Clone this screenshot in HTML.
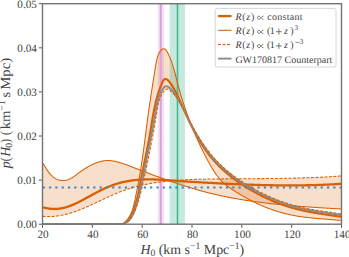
<!DOCTYPE html><html><head><meta charset="utf-8"><style>html,body{margin:0;padding:0;background:#fff;width:349px;height:257px;overflow:hidden}svg{display:block}text{font-family:"Liberation Serif",serif;fill:#424242;text-rendering:geometricPrecision}</style></head><body>
<svg width="349" height="257" viewBox="0 0 349 257">
<rect width="349" height="257" fill="#fff"/>
<defs><clipPath id="ax"><rect x="42.50" y="3.70" width="299.00" height="220.50"/></clipPath></defs>
<g clip-path="url(#ax)">
<rect x="157.8" y="0" width="6.2" height="230" fill="#f4e1f2"/>
<rect x="169.7" y="0" width="15.2" height="230" fill="#c5e9de"/>
<path d="M42.70,163.40 L43.19,163.87 L43.52,164.36 L43.86,164.86 L44.21,165.39 L44.55,165.92 L44.91,166.47 L45.26,167.03 L45.62,167.60 L45.99,168.17 L46.36,168.75 L46.74,169.34 L47.13,169.92 L47.52,170.50 L47.92,171.09 L48.33,171.67 L48.75,172.24 L49.18,172.81 L49.61,173.36 L50.05,173.91 L50.51,174.44 L50.97,174.96 L51.45,175.47 L51.94,175.96 L52.43,176.42 L52.94,176.87 L53.47,177.29 L54.00,177.69 L54.55,178.07 L55.11,178.41 L55.68,178.73 L56.26,179.03 L56.85,179.30 L57.44,179.54 L58.05,179.76 L58.66,179.95 L59.27,180.12 L59.89,180.26 L60.52,180.37 L61.14,180.46 L61.77,180.52 L62.39,180.56 L63.02,180.57 L63.64,180.55 L64.26,180.51 L64.88,180.44 L65.49,180.35 L66.10,180.23 L66.70,180.08 L67.29,179.91 L67.88,179.72 L68.46,179.50 L69.04,179.26 L69.61,179.00 L70.18,178.73 L70.74,178.43 L71.30,178.12 L71.86,177.79 L72.41,177.45 L72.97,177.10 L73.52,176.73 L74.07,176.35 L74.62,175.97 L75.17,175.57 L75.72,175.17 L76.27,174.77 L76.83,174.36 L77.38,173.94 L77.94,173.53 L78.50,173.11 L79.06,172.70 L79.63,172.28 L80.20,171.87 L80.77,171.46 L81.35,171.05 L81.93,170.65 L82.52,170.25 L83.11,169.85 L83.70,169.46 L84.29,169.07 L84.89,168.69 L85.49,168.31 L86.09,167.94 L86.69,167.57 L87.30,167.21 L87.91,166.85 L88.52,166.50 L89.14,166.16 L89.76,165.82 L90.38,165.49 L91.00,165.17 L91.62,164.86 L92.24,164.56 L92.87,164.26 L93.50,163.97 L94.13,163.70 L94.76,163.43 L95.39,163.17 L96.02,162.92 L96.66,162.69 L97.29,162.46 L97.93,162.25 L98.56,162.04 L99.20,161.85 L99.84,161.67 L100.48,161.50 L101.12,161.35 L101.76,161.21 L102.40,161.08 L103.04,160.96 L103.68,160.86 L104.32,160.77 L104.96,160.70 L105.60,160.65 L106.24,160.60 L106.88,160.58 L107.51,160.56 L108.15,160.56 L108.79,160.58 L109.43,160.60 L110.07,160.64 L110.70,160.69 L111.34,160.76 L111.98,160.83 L112.62,160.92 L113.25,161.01 L113.89,161.12 L114.52,161.23 L115.16,161.36 L115.80,161.50 L116.43,161.64 L117.07,161.79 L117.70,161.95 L118.34,162.12 L118.97,162.30 L119.61,162.48 L120.24,162.67 L120.87,162.87 L121.51,163.07 L122.14,163.28 L122.78,163.49 L123.41,163.70 L124.04,163.93 L124.68,164.15 L125.31,164.38 L125.94,164.61 L126.57,164.85 L127.21,165.08 L127.84,165.32 L128.47,165.56 L129.10,165.81 L129.73,166.05 L130.37,166.29 L131.00,166.54 L131.63,166.78 L132.26,167.03 L132.89,167.27 L133.52,167.51 L134.15,167.76 L134.78,168.00 L135.41,168.25 L136.05,168.49 L136.68,168.73 L137.31,168.97 L137.94,169.22 L138.57,169.46 L139.20,169.70 L139.83,169.94 L140.46,170.18 L141.09,170.43 L141.72,170.67 L142.35,170.91 L142.98,171.15 L143.61,171.39 L144.24,171.63 L144.87,171.87 L145.50,172.11 L146.13,172.35 L146.76,172.58 L147.39,172.82 L148.01,173.06 L148.64,173.30 L149.27,173.54 L149.90,173.77 L150.53,174.01 L151.16,174.24 L151.79,174.48 L152.42,174.72 L153.05,174.95 L153.68,175.18 L154.31,175.42 L154.94,175.65 L155.57,175.89 L156.20,176.12 L156.83,176.35 L157.46,176.58 L158.09,176.81 L158.72,177.04 L159.35,177.27 L159.98,177.50 L160.61,177.73 L161.24,177.96 L161.87,178.19 L162.50,178.42 L163.13,178.64 L163.76,178.87 L164.39,179.09 L165.02,179.32 L165.65,179.54 L166.28,179.77 L166.91,179.99 L167.54,180.21 L168.17,180.43 L168.80,180.66 L169.43,180.88 L170.06,181.10 L170.70,181.32 L171.33,181.53 L171.96,181.75 L172.59,181.97 L173.22,182.19 L173.85,182.40 L174.49,182.62 L175.12,182.83 L175.75,183.04 L176.38,183.26 L177.02,183.47 L177.65,183.68 L178.28,183.89 L178.92,184.10 L179.55,184.31 L180.18,184.52 L180.82,184.73 L181.45,184.93 L182.08,185.14 L182.72,185.34 L183.35,185.55 L183.99,185.75 L184.62,185.95 L185.26,186.15 L185.89,186.35 L186.53,186.55 L187.16,186.75 L187.80,186.95 L188.44,187.15 L189.07,187.34 L189.71,187.54 L190.35,187.73 L190.98,187.92 L191.62,188.12 L192.26,188.31 L192.90,188.50 L193.54,188.69 L194.17,188.87 L194.81,189.06 L195.45,189.25 L196.09,189.43 L196.73,189.62 L197.37,189.80 L198.01,189.98 L198.65,190.16 L199.29,190.34 L199.93,190.52 L200.57,190.70 L201.22,190.87 L201.86,191.05 L202.50,191.22 L203.14,191.40 L203.79,191.57 L204.43,191.74 L205.07,191.91 L205.72,192.08 L206.36,192.25 L207.01,192.41 L207.65,192.58 L208.30,192.74 L208.94,192.90 L209.59,193.07 L210.24,193.23 L210.88,193.38 L211.53,193.54 L212.18,193.70 L212.82,193.85 L213.47,194.01 L214.12,194.16 L214.77,194.31 L215.42,194.46 L216.07,194.61 L216.72,194.76 L217.37,194.91 L218.02,195.06 L218.67,195.20 L219.32,195.35 L219.97,195.49 L220.62,195.63 L221.28,195.77 L221.93,195.91 L222.58,196.05 L223.23,196.19 L223.89,196.32 L224.54,196.46 L225.19,196.59 L225.85,196.73 L226.50,196.86 L227.16,196.99 L227.81,197.12 L228.47,197.25 L229.12,197.38 L229.78,197.50 L230.43,197.63 L231.09,197.75 L231.75,197.88 L232.40,198.00 L233.06,198.12 L233.72,198.24 L234.38,198.36 L235.03,198.48 L235.69,198.60 L236.35,198.72 L237.01,198.83 L237.67,198.95 L238.33,199.06 L238.99,199.17 L239.64,199.29 L240.30,199.40 L240.96,199.51 L241.62,199.62 L242.28,199.73 L242.94,199.83 L243.61,199.94 L244.27,200.05 L244.93,200.15 L245.59,200.26 L246.25,200.36 L246.91,200.46 L247.57,200.56 L248.23,200.66 L248.90,200.76 L249.56,200.86 L250.22,200.96 L250.88,201.06 L251.55,201.15 L252.21,201.25 L252.87,201.34 L253.54,201.44 L254.20,201.53 L254.86,201.62 L255.53,201.72 L256.19,201.81 L256.86,201.90 L257.52,201.99 L258.18,202.07 L258.85,202.16 L259.51,202.25 L260.18,202.33 L260.84,202.42 L261.51,202.50 L262.17,202.59 L262.84,202.67 L263.50,202.75 L264.17,202.84 L264.84,202.92 L265.50,203.00 L266.17,203.08 L266.83,203.16 L267.50,203.23 L268.17,203.31 L268.83,203.39 L269.50,203.47 L270.16,203.54 L270.83,203.62 L271.50,203.69 L272.16,203.76 L272.83,203.84 L273.50,203.91 L274.16,203.98 L274.83,204.05 L275.50,204.12 L276.17,204.19 L276.83,204.26 L277.50,204.33 L278.17,204.40 L278.83,204.46 L279.50,204.53 L280.17,204.60 L280.84,204.66 L281.50,204.73 L282.17,204.79 L282.84,204.86 L283.51,204.92 L284.17,204.98 L284.84,205.05 L285.51,205.11 L286.18,205.17 L286.85,205.23 L287.51,205.29 L288.18,205.35 L288.85,205.41 L289.52,205.47 L290.18,205.53 L290.85,205.58 L291.52,205.64 L292.19,205.70 L292.85,205.75 L293.52,205.81 L294.19,205.87 L294.86,205.92 L295.53,205.98 L296.19,206.03 L296.86,206.08 L297.53,206.14 L298.20,206.19 L298.86,206.24 L299.53,206.29 L300.20,206.35 L300.86,206.40 L301.53,206.45 L302.20,206.50 L302.87,206.55 L303.53,206.60 L304.20,206.65 L304.87,206.70 L305.53,206.75 L306.20,206.79 L306.87,206.84 L307.53,206.89 L308.20,206.94 L308.87,206.98 L309.53,207.03 L310.20,207.08 L310.87,207.12 L311.53,207.17 L312.20,207.21 L312.87,207.26 L313.53,207.30 L314.20,207.35 L314.86,207.39 L315.53,207.44 L316.19,207.48 L316.86,207.52 L317.52,207.57 L318.19,207.61 L318.85,207.65 L319.52,207.69 L320.18,207.74 L320.85,207.78 L321.51,207.82 L322.18,207.86 L322.84,207.90 L323.50,207.95 L324.17,207.99 L324.83,208.03 L325.50,208.07 L326.16,208.11 L326.82,208.15 L327.49,208.19 L328.15,208.23 L328.81,208.27 L329.47,208.31 L330.14,208.35 L330.80,208.39 L331.46,208.43 L332.12,208.47 L332.78,208.51 L333.45,208.54 L334.11,208.58 L334.77,208.62 L335.43,208.66 L336.09,208.70 L336.75,208.74 L337.41,208.78 L338.07,208.82 L338.73,208.85 L339.39,208.89 L340.05,208.93 L340.71,208.97 L341.50,208.90 L341.50,176.20 L340.88,175.97 L340.20,176.02 L339.53,176.07 L338.86,176.12 L338.19,176.17 L337.52,176.22 L336.85,176.26 L336.18,176.31 L335.51,176.36 L334.83,176.40 L334.16,176.45 L333.49,176.49 L332.82,176.53 L332.15,176.58 L331.48,176.62 L330.81,176.66 L330.14,176.70 L329.47,176.74 L328.80,176.78 L328.13,176.82 L327.46,176.86 L326.79,176.90 L326.12,176.94 L325.45,176.97 L324.78,177.01 L324.11,177.04 L323.44,177.08 L322.77,177.11 L322.10,177.15 L321.43,177.18 L320.76,177.22 L320.09,177.25 L319.42,177.28 L318.75,177.31 L318.08,177.34 L317.41,177.37 L316.74,177.40 L316.07,177.43 L315.40,177.46 L314.73,177.49 L314.06,177.52 L313.39,177.55 L312.72,177.57 L312.05,177.60 L311.39,177.63 L310.72,177.65 L310.05,177.68 L309.38,177.70 L308.71,177.73 L308.04,177.75 L307.37,177.77 L306.70,177.80 L306.03,177.82 L305.36,177.84 L304.70,177.86 L304.03,177.88 L303.36,177.90 L302.69,177.93 L302.02,177.95 L301.35,177.96 L300.68,177.98 L300.01,178.00 L299.35,178.02 L298.68,178.04 L298.01,178.06 L297.34,178.08 L296.67,178.09 L296.00,178.11 L295.34,178.13 L294.67,178.14 L294.00,178.16 L293.33,178.17 L292.66,178.19 L291.99,178.20 L291.33,178.22 L290.66,178.23 L289.99,178.24 L289.32,178.26 L288.65,178.27 L287.98,178.28 L287.32,178.30 L286.65,178.31 L285.98,178.32 L285.31,178.33 L284.64,178.34 L283.97,178.35 L283.31,178.37 L282.64,178.38 L281.97,178.39 L281.30,178.40 L280.63,178.41 L279.97,178.42 L279.30,178.43 L278.63,178.43 L277.96,178.44 L277.29,178.45 L276.63,178.46 L275.96,178.47 L275.29,178.48 L274.62,178.48 L273.95,178.49 L273.29,178.50 L272.62,178.51 L271.95,178.51 L271.28,178.52 L270.61,178.53 L269.95,178.54 L269.28,178.54 L268.61,178.55 L267.94,178.55 L267.27,178.56 L266.60,178.57 L265.94,178.57 L265.27,178.58 L264.60,178.58 L263.93,178.59 L263.26,178.59 L262.60,178.60 L261.93,178.60 L261.26,178.61 L260.59,178.61 L259.92,178.62 L259.25,178.62 L258.59,178.63 L257.92,178.63 L257.25,178.64 L256.58,178.64 L255.91,178.64 L255.25,178.65 L254.58,178.65 L253.91,178.66 L253.24,178.66 L252.57,178.66 L251.90,178.67 L251.23,178.67 L250.57,178.68 L249.90,178.68 L249.23,178.68 L248.56,178.69 L247.89,178.69 L247.22,178.70 L246.55,178.70 L245.89,178.70 L245.22,178.71 L244.55,178.71 L243.88,178.72 L243.21,178.72 L242.54,178.72 L241.87,178.73 L241.20,178.73 L240.54,178.74 L239.87,178.74 L239.20,178.74 L238.53,178.75 L237.86,178.75 L237.19,178.76 L236.52,178.76 L235.85,178.77 L235.18,178.77 L234.51,178.78 L233.84,178.78 L233.17,178.79 L232.50,178.79 L231.83,178.80 L231.17,178.80 L230.50,178.81 L229.83,178.81 L229.16,178.82 L228.49,178.82 L227.82,178.83 L227.15,178.83 L226.48,178.84 L225.81,178.85 L225.14,178.85 L224.47,178.86 L223.80,178.87 L223.13,178.87 L222.46,178.88 L221.79,178.89 L221.12,178.90 L220.45,178.90 L219.78,178.91 L219.11,178.92 L218.43,178.93 L217.76,178.94 L217.09,178.95 L216.42,178.96 L215.75,178.96 L215.08,178.97 L214.41,178.98 L213.74,178.99 L213.07,179.00 L212.40,179.01 L211.73,179.03 L211.05,179.04 L210.38,179.05 L209.71,179.06 L209.04,179.07 L208.37,179.08 L207.70,179.10 L207.03,179.11 L206.35,179.12 L205.68,179.13 L205.01,179.15 L204.34,179.16 L203.67,179.18 L202.99,179.19 L202.32,179.21 L201.65,179.22 L200.98,179.24 L200.31,179.26 L199.64,179.27 L198.96,179.29 L198.29,179.31 L197.62,179.33 L196.95,179.35 L196.28,179.37 L195.60,179.39 L194.93,179.41 L194.26,179.44 L193.59,179.46 L192.92,179.48 L192.25,179.51 L191.58,179.53 L190.90,179.56 L190.23,179.59 L189.56,179.62 L188.89,179.65 L188.22,179.68 L187.55,179.71 L186.88,179.74 L186.21,179.77 L185.54,179.81 L184.87,179.84 L184.20,179.88 L183.53,179.91 L182.86,179.95 L182.19,179.99 L181.52,180.03 L180.85,180.07 L180.18,180.11 L179.51,180.16 L178.85,180.20 L178.18,180.25 L177.51,180.29 L176.84,180.34 L176.17,180.39 L175.51,180.44 L174.84,180.50 L174.17,180.55 L173.51,180.60 L172.84,180.66 L172.17,180.72 L171.51,180.78 L170.84,180.84 L170.18,180.90 L169.51,180.96 L168.85,181.03 L168.18,181.10 L167.52,181.16 L166.86,181.23 L166.19,181.31 L165.53,181.38 L164.87,181.45 L164.20,181.53 L163.54,181.61 L162.88,181.69 L162.22,181.77 L161.56,181.85 L160.90,181.94 L160.24,182.02 L159.58,182.11 L158.92,182.20 L158.26,182.29 L157.60,182.39 L156.94,182.48 L156.28,182.58 L155.63,182.68 L154.97,182.78 L154.31,182.88 L153.66,182.99 L153.00,183.10 L152.35,183.21 L151.69,183.32 L151.04,183.43 L150.39,183.55 L149.73,183.66 L149.08,183.78 L148.43,183.91 L147.78,184.03 L147.12,184.16 L146.47,184.28 L145.82,184.42 L145.17,184.55 L144.52,184.68 L143.88,184.82 L143.23,184.96 L142.58,185.10 L141.93,185.25 L141.29,185.40 L140.64,185.54 L140.00,185.70 L139.35,185.85 L138.71,186.01 L138.06,186.17 L137.42,186.33 L136.78,186.49 L136.14,186.66 L135.50,186.83 L134.86,187.00 L134.22,187.18 L133.58,187.35 L132.94,187.53 L132.30,187.71 L131.67,187.90 L131.03,188.09 L130.39,188.28 L129.76,188.47 L129.12,188.67 L128.49,188.87 L127.86,189.07 L127.23,189.27 L126.59,189.48 L125.96,189.69 L125.33,189.90 L124.70,190.12 L124.08,190.34 L123.45,190.56 L122.82,190.79 L122.19,191.01 L121.57,191.24 L120.94,191.48 L120.32,191.72 L119.70,191.96 L119.07,192.20 L118.45,192.45 L117.83,192.70 L117.21,192.95 L116.59,193.20 L115.97,193.46 L115.35,193.72 L114.74,193.98 L114.12,194.25 L113.50,194.51 L112.89,194.78 L112.27,195.05 L111.66,195.33 L111.04,195.60 L110.43,195.88 L109.82,196.16 L109.20,196.44 L108.59,196.72 L107.98,197.00 L107.37,197.29 L106.75,197.57 L106.14,197.86 L105.53,198.15 L104.92,198.44 L104.31,198.73 L103.70,199.02 L103.09,199.31 L102.48,199.60 L101.87,199.89 L101.26,200.18 L100.65,200.48 L100.04,200.77 L99.43,201.06 L98.82,201.35 L98.21,201.65 L97.61,201.94 L97.00,202.23 L96.39,202.52 L95.78,202.82 L95.17,203.11 L94.56,203.40 L93.95,203.69 L93.34,203.98 L92.73,204.26 L92.12,204.55 L91.51,204.84 L90.90,205.12 L90.29,205.40 L89.67,205.69 L89.06,205.97 L88.45,206.25 L87.84,206.52 L87.22,206.80 L86.61,207.07 L86.00,207.34 L85.38,207.61 L84.77,207.88 L84.15,208.14 L83.54,208.41 L82.92,208.67 L82.30,208.92 L81.69,209.18 L81.07,209.43 L80.45,209.68 L79.83,209.93 L79.21,210.17 L78.59,210.41 L77.97,210.65 L77.35,210.88 L76.72,211.11 L76.10,211.34 L75.47,211.56 L74.85,211.78 L74.22,212.00 L73.59,212.21 L72.97,212.42 L72.34,212.63 L71.71,212.83 L71.08,213.02 L70.44,213.21 L69.81,213.40 L69.18,213.58 L68.54,213.76 L67.90,213.94 L67.27,214.10 L66.63,214.27 L65.99,214.43 L65.35,214.58 L64.70,214.73 L64.06,214.87 L63.42,215.01 L62.77,215.14 L62.12,215.27 L61.47,215.39 L60.82,215.51 L60.17,215.62 L59.52,215.72 L58.86,215.82 L58.21,215.91 L57.55,216.00 L56.89,216.08 L56.23,216.15 L55.57,216.22 L54.91,216.28 L54.24,216.33 L53.58,216.38 L52.91,216.42 L52.24,216.45 L51.57,216.47 L50.89,216.49 L50.22,216.50 L49.54,216.51 L48.86,216.50 L48.18,216.49 L47.50,216.48 L46.82,216.45 L46.13,216.42 L45.44,216.37 L44.75,216.32 L44.06,216.27 L43.37,216.20 L42.70,216.00 Z" fill="#d95f02" fill-opacity="0.2" stroke="none"/>
<path d="M42.50,224.20 L116.50,224.20 L117.19,224.20 L117.91,224.20 L118.61,224.20 L119.30,224.20 L119.97,224.20 L120.62,224.20 L121.25,224.07 L121.87,223.85 L122.48,223.59 L123.06,223.29 L123.63,222.96 L124.18,222.59 L124.71,222.20 L125.23,221.78 L125.73,221.33 L126.21,220.87 L126.67,220.39 L127.12,219.89 L127.55,219.38 L127.96,218.86 L128.35,218.33 L128.73,217.79 L129.09,217.25 L129.44,216.69 L129.77,216.13 L130.09,215.55 L130.39,214.97 L130.68,214.38 L130.96,213.79 L131.22,213.19 L131.48,212.58 L131.72,211.96 L131.95,211.34 L132.18,210.72 L132.39,210.09 L132.60,209.45 L132.79,208.81 L132.98,208.17 L133.16,207.52 L133.34,206.87 L133.51,206.22 L133.67,205.57 L133.83,204.91 L133.98,204.25 L134.13,203.59 L134.28,202.92 L134.43,202.26 L134.57,201.60 L134.71,200.93 L134.85,200.27 L134.98,199.61 L135.12,198.94 L135.26,198.28 L135.40,197.62 L135.53,196.96 L135.67,196.30 L135.80,195.64 L135.94,194.98 L136.07,194.33 L136.21,193.67 L136.34,193.01 L136.48,192.35 L136.61,191.70 L136.74,191.04 L136.87,190.39 L137.00,189.73 L137.13,189.08 L137.26,188.42 L137.39,187.77 L137.52,187.11 L137.65,186.46 L137.77,185.81 L137.90,185.15 L138.03,184.50 L138.15,183.85 L138.28,183.19 L138.40,182.54 L138.52,181.89 L138.64,181.23 L138.77,180.58 L138.89,179.92 L139.01,179.27 L139.12,178.62 L139.24,177.96 L139.36,177.31 L139.48,176.66 L139.59,176.00 L139.71,175.35 L139.82,174.69 L139.93,174.04 L140.05,173.38 L140.16,172.72 L140.27,172.07 L140.38,171.41 L140.49,170.75 L140.59,170.10 L140.70,169.44 L140.81,168.78 L140.91,168.12 L141.02,167.47 L141.12,166.81 L141.22,166.15 L141.33,165.49 L141.43,164.83 L141.53,164.17 L141.63,163.51 L141.73,162.85 L141.83,162.19 L141.93,161.53 L142.03,160.87 L142.12,160.21 L142.22,159.55 L142.32,158.89 L142.41,158.22 L142.51,157.56 L142.60,156.90 L142.70,156.24 L142.79,155.58 L142.88,154.91 L142.97,154.25 L143.07,153.59 L143.16,152.93 L143.25,152.26 L143.34,151.60 L143.43,150.94 L143.52,150.27 L143.61,149.61 L143.70,148.95 L143.79,148.28 L143.88,147.62 L143.97,146.96 L144.05,146.29 L144.14,145.63 L144.23,144.97 L144.32,144.30 L144.40,143.64 L144.49,142.97 L144.58,142.31 L144.66,141.65 L144.75,140.98 L144.84,140.32 L144.92,139.65 L145.01,138.99 L145.09,138.32 L145.18,137.66 L145.26,137.00 L145.35,136.33 L145.43,135.67 L145.52,135.00 L145.61,134.34 L145.69,133.68 L145.78,133.01 L145.86,132.35 L145.95,131.68 L146.03,131.02 L146.12,130.36 L146.20,129.69 L146.29,129.03 L146.37,128.37 L146.46,127.70 L146.54,127.04 L146.63,126.38 L146.72,125.71 L146.80,125.05 L146.89,124.39 L146.97,123.72 L147.06,123.06 L147.15,122.40 L147.24,121.74 L147.32,121.07 L147.41,120.41 L147.50,119.75 L147.59,119.09 L147.68,118.43 L147.76,117.77 L147.85,117.11 L147.94,116.44 L148.03,115.78 L148.12,115.12 L148.21,114.46 L148.30,113.80 L148.40,113.14 L148.49,112.48 L148.58,111.82 L148.67,111.16 L148.76,110.50 L148.86,109.84 L148.95,109.19 L149.04,108.53 L149.14,107.87 L149.23,107.21 L149.33,106.55 L149.42,105.89 L149.52,105.23 L149.61,104.57 L149.71,103.91 L149.80,103.26 L149.90,102.60 L149.99,101.94 L150.09,101.28 L150.19,100.62 L150.29,99.96 L150.38,99.30 L150.48,98.65 L150.58,97.99 L150.68,97.33 L150.78,96.67 L150.88,96.01 L150.98,95.35 L151.07,94.70 L151.17,94.04 L151.27,93.38 L151.38,92.72 L151.48,92.06 L151.58,91.40 L151.68,90.74 L151.78,90.08 L151.88,89.43 L151.98,88.77 L152.09,88.11 L152.19,87.45 L152.29,86.79 L152.39,86.13 L152.50,85.47 L152.60,84.81 L152.71,84.15 L152.81,83.49 L152.91,82.83 L153.02,82.17 L153.12,81.51 L153.23,80.85 L153.33,80.18 L153.44,79.52 L153.54,78.86 L153.65,78.20 L153.76,77.54 L153.86,76.88 L153.97,76.21 L154.08,75.55 L154.18,74.89 L154.29,74.23 L154.40,73.56 L154.51,72.90 L154.62,72.23 L154.72,71.57 L154.83,70.91 L154.94,70.24 L155.05,69.58 L155.16,68.91 L155.27,68.25 L155.38,67.58 L155.49,66.91 L155.60,66.25 L155.71,65.58 L155.82,64.91 L155.93,64.25 L156.04,63.58 L156.16,62.91 L156.28,62.24 L156.41,61.57 L156.55,60.90 L156.70,60.23 L156.85,59.56 L157.02,58.88 L157.20,58.21 L157.40,57.53 L157.61,56.86 L157.83,56.18 L158.08,55.50 L158.34,54.83 L158.62,54.15 L158.92,53.49 L159.24,52.85 L159.57,52.24 L159.91,51.65 L160.27,51.10 L160.64,50.60 L161.03,50.14 L161.42,49.74 L161.83,49.41 L162.24,49.14 L162.67,48.94 L163.09,48.82 L163.52,48.77 L163.95,48.80 L164.37,48.90 L164.78,49.07 L165.18,49.32 L165.57,49.64 L165.95,50.02 L166.31,50.45 L166.67,50.93 L167.02,51.46 L167.35,52.03 L167.68,52.62 L168.00,53.24 L168.31,53.88 L168.62,54.53 L168.91,55.19 L169.20,55.84 L169.48,56.50 L169.76,57.16 L170.03,57.81 L170.29,58.47 L170.55,59.12 L170.80,59.78 L171.04,60.43 L171.28,61.08 L171.52,61.73 L171.75,62.39 L171.97,63.04 L172.19,63.69 L172.41,64.34 L172.62,64.99 L172.83,65.64 L173.03,66.29 L173.23,66.94 L173.42,67.59 L173.62,68.23 L173.81,68.88 L173.99,69.53 L174.18,70.17 L174.36,70.82 L174.53,71.47 L174.71,72.11 L174.88,72.76 L175.06,73.40 L175.23,74.05 L175.39,74.69 L175.56,75.34 L175.73,75.98 L175.89,76.63 L176.06,77.27 L176.22,77.91 L176.39,78.56 L176.55,79.20 L176.71,79.84 L176.88,80.48 L177.04,81.13 L177.20,81.77 L177.37,82.41 L177.54,83.05 L177.70,83.69 L177.87,84.34 L178.04,84.98 L178.21,85.62 L178.38,86.26 L178.56,86.90 L178.73,87.54 L178.91,88.18 L179.09,88.82 L179.27,89.46 L179.45,90.10 L179.63,90.74 L179.81,91.38 L179.99,92.02 L180.18,92.66 L180.37,93.30 L180.55,93.94 L180.74,94.58 L180.93,95.22 L181.12,95.86 L181.32,96.49 L181.51,97.13 L181.71,97.77 L181.90,98.41 L182.10,99.04 L182.30,99.68 L182.50,100.32 L182.70,100.95 L182.90,101.59 L183.11,102.23 L183.31,102.86 L183.52,103.50 L183.73,104.13 L183.93,104.77 L184.14,105.40 L184.36,106.03 L184.57,106.67 L184.78,107.30 L185.00,107.93 L185.21,108.57 L185.43,109.20 L185.65,109.83 L185.87,110.46 L186.09,111.09 L186.31,111.73 L186.53,112.36 L186.76,112.99 L186.98,113.62 L187.21,114.25 L187.44,114.88 L187.67,115.50 L187.90,116.13 L188.13,116.76 L188.36,117.39 L188.59,118.02 L188.83,118.64 L189.07,119.27 L189.30,119.89 L189.54,120.52 L189.78,121.14 L190.02,121.77 L190.26,122.39 L190.51,123.02 L190.75,123.64 L191.00,124.26 L191.24,124.89 L191.49,125.51 L191.74,126.13 L191.99,126.75 L192.24,127.37 L192.49,127.99 L192.74,128.61 L193.00,129.23 L193.25,129.85 L193.51,130.46 L193.77,131.08 L194.03,131.70 L194.29,132.31 L194.55,132.93 L194.81,133.55 L195.07,134.16 L195.34,134.77 L195.60,135.39 L195.87,136.00 L196.14,136.61 L196.41,137.22 L196.67,137.84 L196.95,138.45 L197.22,139.06 L197.49,139.67 L197.76,140.27 L198.04,140.88 L198.32,141.49 L198.59,142.10 L198.87,142.70 L199.15,143.31 L199.43,143.92 L199.71,144.52 L200.00,145.12 L200.28,145.73 L200.56,146.33 L200.85,146.93 L201.14,147.53 L201.42,148.13 L201.71,148.73 L202.00,149.33 L202.29,149.93 L202.59,150.53 L202.88,151.13 L203.18,151.72 L203.47,152.32 L203.77,152.91 L204.07,153.51 L204.37,154.10 L204.67,154.70 L204.98,155.29 L205.28,155.88 L205.59,156.47 L205.90,157.06 L206.21,157.65 L206.52,158.24 L206.83,158.83 L207.15,159.42 L207.46,160.00 L207.78,160.59 L208.10,161.18 L208.43,161.76 L208.75,162.35 L209.08,162.93 L209.40,163.51 L209.74,164.09 L210.07,164.68 L210.40,165.26 L210.74,165.84 L211.08,166.42 L211.42,167.00 L211.76,167.57 L212.11,168.15 L212.45,168.73 L212.80,169.30 L213.16,169.88 L213.51,170.45 L213.87,171.02 L214.23,171.59 L214.60,172.15 L214.97,172.72 L215.34,173.28 L215.72,173.83 L216.10,174.38 L216.49,174.93 L216.89,175.47 L217.28,176.01 L217.69,176.54 L218.10,177.07 L218.51,177.59 L218.94,178.10 L219.37,178.61 L219.80,179.11 L220.24,179.60 L220.69,180.09 L221.15,180.57 L221.61,181.04 L222.08,181.51 L222.55,181.97 L223.04,182.42 L223.52,182.87 L224.01,183.31 L224.51,183.75 L225.02,184.18 L225.52,184.60 L226.04,185.02 L226.55,185.43 L227.08,185.84 L227.60,186.25 L228.13,186.65 L228.67,187.04 L229.21,187.43 L229.75,187.82 L230.29,188.20 L230.84,188.58 L231.39,188.96 L231.95,189.33 L232.50,189.70 L233.06,190.07 L233.62,190.43 L234.19,190.80 L234.75,191.16 L235.32,191.51 L235.89,191.87 L236.46,192.22 L237.03,192.57 L237.60,192.92 L238.17,193.27 L238.75,193.62 L239.32,193.96 L239.90,194.31 L240.47,194.65 L241.05,194.99 L241.63,195.33 L242.21,195.66 L242.79,196.00 L243.37,196.33 L243.96,196.66 L244.54,196.99 L245.13,197.32 L245.71,197.64 L246.30,197.97 L246.89,198.29 L247.48,198.61 L248.07,198.93 L248.66,199.24 L249.25,199.56 L249.84,199.87 L250.43,200.18 L251.03,200.48 L251.62,200.79 L252.22,201.09 L252.82,201.39 L253.42,201.69 L254.02,201.99 L254.62,202.28 L255.22,202.58 L255.82,202.87 L256.43,203.15 L257.03,203.44 L257.64,203.72 L258.24,204.01 L258.85,204.28 L259.46,204.56 L260.07,204.83 L260.68,205.11 L261.29,205.38 L261.90,205.64 L262.51,205.91 L263.13,206.17 L263.74,206.43 L264.36,206.68 L264.97,206.94 L265.59,207.19 L266.21,207.44 L266.83,207.69 L267.45,207.93 L268.07,208.17 L268.69,208.41 L269.32,208.65 L269.94,208.88 L270.57,209.11 L271.19,209.34 L271.82,209.57 L272.45,209.79 L273.07,210.01 L273.70,210.23 L274.33,210.44 L274.97,210.65 L275.60,210.86 L276.23,211.07 L276.86,211.27 L277.50,211.47 L278.13,211.67 L278.77,211.86 L279.41,212.05 L280.05,212.24 L280.69,212.42 L281.33,212.61 L281.97,212.79 L282.61,212.96 L283.25,213.13 L283.89,213.30 L284.54,213.47 L285.18,213.63 L285.83,213.79 L286.48,213.95 L287.12,214.10 L287.77,214.26 L288.42,214.40 L289.07,214.55 L289.72,214.69 L290.38,214.83 L291.03,214.96 L291.68,215.09 L292.34,215.22 L292.99,215.35 L293.65,215.47 L294.30,215.59 L294.96,215.71 L295.62,215.82 L296.27,215.94 L296.93,216.05 L297.59,216.16 L298.25,216.26 L298.91,216.36 L299.57,216.46 L300.24,216.56 L300.90,216.66 L301.56,216.75 L302.22,216.84 L302.89,216.93 L303.55,217.02 L304.21,217.11 L304.88,217.19 L305.54,217.27 L306.21,217.35 L306.87,217.43 L307.54,217.51 L308.21,217.58 L308.87,217.65 L309.54,217.73 L310.20,217.80 L310.87,217.87 L311.54,217.93 L312.21,218.00 L312.87,218.07 L313.54,218.13 L314.21,218.19 L314.88,218.26 L315.54,218.32 L316.21,218.38 L316.88,218.43 L317.55,218.49 L318.22,218.55 L318.88,218.61 L319.55,218.66 L320.22,218.72 L320.89,218.77 L321.55,218.83 L322.22,218.88 L322.89,218.93 L323.56,218.99 L324.22,219.04 L324.89,219.09 L325.56,219.14 L326.22,219.20 L326.89,219.25 L327.56,219.30 L328.22,219.35 L328.89,219.40 L329.55,219.46 L330.22,219.51 L330.88,219.56 L331.54,219.61 L332.21,219.67 L332.87,219.72 L333.53,219.77 L334.19,219.83 L334.86,219.88 L335.52,219.94 L336.18,220.00 L336.84,220.05 L337.50,220.11 L338.16,220.17 L338.81,220.23 L339.47,220.29 L340.13,220.35 L340.79,220.41 L341.50,220.40 L341.50,213.90 L340.91,213.51 L340.24,213.45 L339.57,213.40 L338.90,213.34 L338.24,213.28 L337.57,213.22 L336.90,213.16 L336.23,213.10 L335.57,213.03 L334.90,212.96 L334.23,212.89 L333.57,212.82 L332.90,212.75 L332.23,212.68 L331.57,212.60 L330.90,212.52 L330.24,212.44 L329.57,212.36 L328.90,212.28 L328.24,212.20 L327.57,212.11 L326.91,212.02 L326.25,211.93 L325.58,211.84 L324.92,211.75 L324.26,211.65 L323.59,211.56 L322.93,211.46 L322.27,211.36 L321.60,211.26 L320.94,211.15 L320.28,211.05 L319.62,210.94 L318.96,210.83 L318.30,210.72 L317.64,210.61 L316.98,210.49 L316.32,210.37 L315.66,210.26 L315.00,210.14 L314.34,210.01 L313.69,209.89 L313.03,209.76 L312.37,209.64 L311.72,209.51 L311.06,209.38 L310.40,209.24 L309.75,209.11 L309.09,208.97 L308.44,208.83 L307.79,208.69 L307.13,208.55 L306.48,208.40 L305.83,208.26 L305.17,208.11 L304.52,207.96 L303.87,207.81 L303.22,207.65 L302.57,207.50 L301.92,207.34 L301.27,207.18 L300.63,207.02 L299.98,206.86 L299.33,206.69 L298.69,206.52 L298.04,206.35 L297.39,206.18 L296.75,206.01 L296.11,205.83 L295.46,205.66 L294.82,205.48 L294.18,205.30 L293.53,205.11 L292.89,204.93 L292.25,204.74 L291.61,204.55 L290.97,204.36 L290.34,204.17 L289.70,203.97 L289.06,203.77 L288.42,203.57 L287.79,203.37 L287.15,203.17 L286.52,202.96 L285.89,202.76 L285.25,202.55 L284.62,202.34 L283.99,202.12 L283.36,201.91 L282.73,201.69 L282.10,201.47 L281.47,201.25 L280.85,201.02 L280.22,200.80 L279.59,200.57 L278.97,200.34 L278.34,200.11 L277.72,199.87 L277.10,199.64 L276.47,199.40 L275.85,199.16 L275.23,198.91 L274.61,198.67 L274.00,198.42 L273.38,198.17 L272.76,197.92 L272.15,197.67 L271.53,197.41 L270.92,197.15 L270.30,196.89 L269.69,196.63 L269.08,196.37 L268.47,196.10 L267.86,195.83 L267.25,195.56 L266.64,195.29 L266.04,195.01 L265.43,194.73 L264.83,194.46 L264.22,194.17 L263.62,193.89 L263.02,193.60 L262.42,193.31 L261.82,193.02 L261.22,192.73 L260.62,192.44 L260.02,192.14 L259.43,191.84 L258.83,191.54 L258.24,191.23 L257.65,190.93 L257.05,190.62 L256.46,190.31 L255.87,189.99 L255.29,189.68 L254.70,189.36 L254.11,189.04 L253.53,188.72 L252.94,188.39 L252.36,188.07 L251.78,187.74 L251.20,187.41 L250.62,187.07 L250.04,186.74 L249.46,186.40 L248.89,186.06 L248.31,185.71 L247.74,185.37 L247.17,185.02 L246.59,184.67 L246.02,184.32 L245.46,183.96 L244.89,183.61 L244.32,183.25 L243.76,182.89 L243.20,182.52 L242.63,182.15 L242.07,181.79 L241.52,181.42 L240.96,181.04 L240.40,180.67 L239.85,180.29 L239.30,179.91 L238.74,179.53 L238.19,179.14 L237.65,178.75 L237.10,178.37 L236.56,177.97 L236.01,177.58 L235.47,177.18 L234.93,176.78 L234.39,176.38 L233.86,175.98 L233.32,175.58 L232.79,175.17 L232.26,174.76 L231.73,174.35 L231.21,173.93 L230.68,173.51 L230.16,173.09 L229.64,172.67 L229.12,172.25 L228.60,171.82 L228.09,171.39 L227.57,170.96 L227.06,170.53 L226.55,170.10 L226.05,169.66 L225.54,169.22 L225.04,168.78 L224.54,168.33 L224.04,167.89 L223.55,167.44 L223.05,166.99 L222.56,166.53 L222.07,166.08 L221.58,165.62 L221.10,165.16 L220.62,164.70 L220.14,164.23 L219.66,163.76 L219.19,163.29 L218.71,162.82 L218.24,162.35 L217.78,161.87 L217.31,161.39 L216.85,160.91 L216.39,160.43 L215.93,159.94 L215.48,159.46 L215.02,158.97 L214.57,158.47 L214.13,157.98 L213.68,157.48 L213.24,156.98 L212.80,156.48 L212.36,155.98 L211.93,155.47 L211.50,154.97 L211.07,154.46 L210.65,153.94 L210.22,153.43 L209.80,152.91 L209.39,152.39 L208.97,151.87 L208.56,151.35 L208.15,150.83 L207.74,150.30 L207.34,149.77 L206.94,149.24 L206.54,148.71 L206.14,148.17 L205.75,147.63 L205.35,147.10 L204.96,146.56 L204.58,146.01 L204.19,145.47 L203.81,144.92 L203.43,144.38 L203.05,143.83 L202.68,143.28 L202.30,142.72 L201.93,142.17 L201.56,141.61 L201.20,141.06 L200.83,140.50 L200.47,139.94 L200.11,139.38 L199.75,138.81 L199.40,138.25 L199.04,137.68 L198.69,137.11 L198.34,136.54 L197.99,135.97 L197.65,135.40 L197.31,134.83 L196.97,134.25 L196.63,133.68 L196.29,133.10 L195.95,132.52 L195.62,131.94 L195.29,131.36 L194.96,130.78 L194.63,130.19 L194.31,129.61 L193.98,129.02 L193.66,128.44 L193.34,127.85 L193.02,127.26 L192.71,126.67 L192.39,126.08 L192.08,125.49 L191.77,124.90 L191.46,124.30 L191.15,123.71 L190.84,123.11 L190.54,122.52 L190.23,121.92 L189.93,121.32 L189.63,120.72 L189.33,120.12 L189.03,119.52 L188.74,118.93 L188.44,118.33 L188.14,117.73 L187.84,117.13 L187.55,116.53 L187.25,115.93 L186.95,115.33 L186.65,114.73 L186.35,114.13 L186.05,113.54 L185.75,112.94 L185.45,112.34 L185.14,111.75 L184.83,111.16 L184.53,110.56 L184.21,109.97 L183.90,109.38 L183.58,108.80 L183.26,108.21 L182.94,107.62 L182.62,107.04 L182.29,106.46 L181.96,105.88 L181.62,105.31 L181.28,104.73 L180.94,104.16 L180.59,103.59 L180.23,103.03 L179.88,102.46 L179.51,101.90 L179.14,101.34 L178.77,100.79 L178.39,100.24 L178.01,99.69 L177.62,99.14 L177.22,98.60 L176.82,98.06 L176.41,97.53 L175.99,97.00 L175.57,96.47 L175.14,95.95 L174.70,95.43 L174.25,94.92 L173.80,94.41 L173.34,93.90 L172.87,93.40 L172.39,92.91 L171.91,92.41 L171.41,91.93 L170.91,91.47 L170.40,91.03 L169.89,90.62 L169.37,90.25 L168.84,89.93 L168.31,89.67 L167.78,89.47 L167.25,89.35 L166.71,89.30 L166.17,89.35 L165.63,89.49 L165.10,89.71 L164.58,90.01 L164.07,90.37 L163.57,90.80 L163.11,91.27 L162.67,91.79 L162.26,92.34 L161.89,92.92 L161.56,93.52 L161.26,94.13 L160.99,94.76 L160.75,95.40 L160.53,96.05 L160.33,96.71 L160.14,97.37 L159.97,98.04 L159.80,98.71 L159.63,99.38 L159.47,100.05 L159.31,100.72 L159.15,101.39 L158.99,102.06 L158.84,102.73 L158.69,103.40 L158.54,104.06 L158.39,104.73 L158.24,105.40 L158.10,106.06 L157.95,106.72 L157.81,107.39 L157.67,108.05 L157.53,108.71 L157.40,109.38 L157.26,110.04 L157.13,110.70 L157.00,111.36 L156.87,112.02 L156.74,112.68 L156.61,113.34 L156.48,114.00 L156.36,114.66 L156.23,115.32 L156.11,115.98 L155.99,116.64 L155.87,117.29 L155.75,117.95 L155.63,118.61 L155.51,119.26 L155.39,119.92 L155.27,120.58 L155.16,121.23 L155.04,121.89 L154.93,122.54 L154.81,123.20 L154.70,123.85 L154.59,124.51 L154.47,125.16 L154.36,125.82 L154.25,126.47 L154.14,127.13 L154.03,127.78 L153.92,128.44 L153.80,129.09 L153.69,129.75 L153.58,130.40 L153.47,131.05 L153.36,131.71 L153.25,132.36 L153.14,133.02 L153.03,133.67 L152.92,134.33 L152.80,134.98 L152.69,135.63 L152.58,136.29 L152.47,136.94 L152.35,137.60 L152.24,138.25 L152.13,138.91 L152.01,139.56 L151.89,140.22 L151.78,140.87 L151.66,141.53 L151.54,142.19 L151.42,142.84 L151.30,143.50 L151.18,144.15 L151.06,144.81 L150.94,145.47 L150.82,146.12 L150.69,146.78 L150.57,147.44 L150.44,148.10 L150.32,148.75 L150.19,149.41 L150.06,150.07 L149.94,150.73 L149.81,151.39 L149.68,152.04 L149.55,152.70 L149.42,153.36 L149.29,154.02 L149.15,154.68 L149.02,155.33 L148.89,155.99 L148.75,156.65 L148.62,157.31 L148.49,157.97 L148.35,158.62 L148.21,159.28 L148.08,159.94 L147.94,160.60 L147.80,161.26 L147.66,161.91 L147.52,162.57 L147.38,163.23 L147.25,163.89 L147.10,164.54 L146.96,165.20 L146.82,165.86 L146.68,166.51 L146.54,167.17 L146.40,167.83 L146.25,168.48 L146.11,169.14 L145.97,169.79 L145.82,170.45 L145.68,171.10 L145.53,171.76 L145.39,172.41 L145.24,173.07 L145.10,173.72 L144.95,174.37 L144.80,175.03 L144.66,175.68 L144.51,176.33 L144.36,176.98 L144.22,177.64 L144.07,178.29 L143.92,178.94 L143.77,179.59 L143.62,180.24 L143.47,180.89 L143.33,181.54 L143.18,182.19 L143.03,182.84 L142.88,183.48 L142.73,184.13 L142.58,184.78 L142.43,185.42 L142.28,186.07 L142.13,186.72 L141.98,187.36 L141.83,188.00 L141.68,188.65 L141.53,189.29 L141.38,189.93 L141.22,190.58 L141.07,191.22 L140.91,191.86 L140.76,192.50 L140.60,193.14 L140.44,193.78 L140.28,194.42 L140.12,195.06 L139.95,195.70 L139.78,196.34 L139.62,196.98 L139.44,197.62 L139.27,198.26 L139.09,198.90 L138.91,199.54 L138.72,200.18 L138.53,200.82 L138.34,201.46 L138.15,202.10 L137.95,202.74 L137.74,203.38 L137.53,204.02 L137.32,204.66 L137.11,205.30 L136.88,205.94 L136.66,206.58 L136.42,207.22 L136.19,207.86 L135.94,208.50 L135.70,209.14 L135.44,209.78 L135.18,210.43 L134.92,211.07 L134.64,211.71 L134.36,212.35 L134.07,212.98 L133.78,213.61 L133.47,214.23 L133.16,214.85 L132.84,215.46 L132.50,216.06 L132.16,216.64 L131.80,217.22 L131.44,217.78 L131.06,218.33 L130.67,218.86 L130.26,219.37 L129.85,219.87 L129.42,220.35 L128.97,220.80 L128.51,221.24 L128.04,221.65 L127.54,222.04 L127.04,222.40 L126.51,222.74 L125.97,223.05 L125.41,223.33 L124.83,223.58 L124.24,223.80 L123.62,223.99 L122.99,224.15 L122.34,224.20 L121.66,224.20 L120.96,224.20 L120.25,224.20 L119.50,224.20 L42.50,224.20 Z" fill="#d95f02" fill-opacity="0.2" stroke="none"/>
<line x1="160.8" y1="0" x2="160.8" y2="230" stroke="#dca3d8" stroke-width="2"/>
<line x1="177.5" y1="0" x2="177.5" y2="230" stroke="#45b88e" stroke-width="1.6"/>
<path d="M42.70,163.40 L43.19,163.87 L43.52,164.36 L43.86,164.86 L44.21,165.39 L44.55,165.92 L44.91,166.47 L45.26,167.03 L45.62,167.60 L45.99,168.17 L46.36,168.75 L46.74,169.34 L47.13,169.92 L47.52,170.50 L47.92,171.09 L48.33,171.67 L48.75,172.24 L49.18,172.81 L49.61,173.36 L50.05,173.91 L50.51,174.44 L50.97,174.96 L51.45,175.47 L51.94,175.96 L52.43,176.42 L52.94,176.87 L53.47,177.29 L54.00,177.69 L54.55,178.07 L55.11,178.41 L55.68,178.73 L56.26,179.03 L56.85,179.30 L57.44,179.54 L58.05,179.76 L58.66,179.95 L59.27,180.12 L59.89,180.26 L60.52,180.37 L61.14,180.46 L61.77,180.52 L62.39,180.56 L63.02,180.57 L63.64,180.55 L64.26,180.51 L64.88,180.44 L65.49,180.35 L66.10,180.23 L66.70,180.08 L67.29,179.91 L67.88,179.72 L68.46,179.50 L69.04,179.26 L69.61,179.00 L70.18,178.73 L70.74,178.43 L71.30,178.12 L71.86,177.79 L72.41,177.45 L72.97,177.10 L73.52,176.73 L74.07,176.35 L74.62,175.97 L75.17,175.57 L75.72,175.17 L76.27,174.77 L76.83,174.36 L77.38,173.94 L77.94,173.53 L78.50,173.11 L79.06,172.70 L79.63,172.28 L80.20,171.87 L80.77,171.46 L81.35,171.05 L81.93,170.65 L82.52,170.25 L83.11,169.85 L83.70,169.46 L84.29,169.07 L84.89,168.69 L85.49,168.31 L86.09,167.94 L86.69,167.57 L87.30,167.21 L87.91,166.85 L88.52,166.50 L89.14,166.16 L89.76,165.82 L90.38,165.49 L91.00,165.17 L91.62,164.86 L92.24,164.56 L92.87,164.26 L93.50,163.97 L94.13,163.70 L94.76,163.43 L95.39,163.17 L96.02,162.92 L96.66,162.69 L97.29,162.46 L97.93,162.25 L98.56,162.04 L99.20,161.85 L99.84,161.67 L100.48,161.50 L101.12,161.35 L101.76,161.21 L102.40,161.08 L103.04,160.96 L103.68,160.86 L104.32,160.77 L104.96,160.70 L105.60,160.65 L106.24,160.60 L106.88,160.58 L107.51,160.56 L108.15,160.56 L108.79,160.58 L109.43,160.60 L110.07,160.64 L110.70,160.69 L111.34,160.76 L111.98,160.83 L112.62,160.92 L113.25,161.01 L113.89,161.12 L114.52,161.23 L115.16,161.36 L115.80,161.50 L116.43,161.64 L117.07,161.79 L117.70,161.95 L118.34,162.12 L118.97,162.30 L119.61,162.48 L120.24,162.67 L120.87,162.87 L121.51,163.07 L122.14,163.28 L122.78,163.49 L123.41,163.70 L124.04,163.93 L124.68,164.15 L125.31,164.38 L125.94,164.61 L126.57,164.85 L127.21,165.08 L127.84,165.32 L128.47,165.56 L129.10,165.81 L129.73,166.05 L130.37,166.29 L131.00,166.54 L131.63,166.78 L132.26,167.03 L132.89,167.27 L133.52,167.51 L134.15,167.76 L134.78,168.00 L135.41,168.25 L136.05,168.49 L136.68,168.73 L137.31,168.97 L137.94,169.22 L138.57,169.46 L139.20,169.70 L139.83,169.94 L140.46,170.18 L141.09,170.43 L141.72,170.67 L142.35,170.91 L142.98,171.15 L143.61,171.39 L144.24,171.63 L144.87,171.87 L145.50,172.11 L146.13,172.35 L146.76,172.58 L147.39,172.82 L148.01,173.06 L148.64,173.30 L149.27,173.54 L149.90,173.77 L150.53,174.01 L151.16,174.24 L151.79,174.48 L152.42,174.72 L153.05,174.95 L153.68,175.18 L154.31,175.42 L154.94,175.65 L155.57,175.89 L156.20,176.12 L156.83,176.35 L157.46,176.58 L158.09,176.81 L158.72,177.04 L159.35,177.27 L159.98,177.50 L160.61,177.73 L161.24,177.96 L161.87,178.19 L162.50,178.42 L163.13,178.64 L163.76,178.87 L164.39,179.09 L165.02,179.32 L165.65,179.54 L166.28,179.77 L166.91,179.99 L167.54,180.21 L168.17,180.43 L168.80,180.66 L169.43,180.88 L170.06,181.10 L170.70,181.32 L171.33,181.53 L171.96,181.75 L172.59,181.97 L173.22,182.19 L173.85,182.40 L174.49,182.62 L175.12,182.83 L175.75,183.04 L176.38,183.26 L177.02,183.47 L177.65,183.68 L178.28,183.89 L178.92,184.10 L179.55,184.31 L180.18,184.52 L180.82,184.73 L181.45,184.93 L182.08,185.14 L182.72,185.34 L183.35,185.55 L183.99,185.75 L184.62,185.95 L185.26,186.15 L185.89,186.35 L186.53,186.55 L187.16,186.75 L187.80,186.95 L188.44,187.15 L189.07,187.34 L189.71,187.54 L190.35,187.73 L190.98,187.92 L191.62,188.12 L192.26,188.31 L192.90,188.50 L193.54,188.69 L194.17,188.87 L194.81,189.06 L195.45,189.25 L196.09,189.43 L196.73,189.62 L197.37,189.80 L198.01,189.98 L198.65,190.16 L199.29,190.34 L199.93,190.52 L200.57,190.70 L201.22,190.87 L201.86,191.05 L202.50,191.22 L203.14,191.40 L203.79,191.57 L204.43,191.74 L205.07,191.91 L205.72,192.08 L206.36,192.25 L207.01,192.41 L207.65,192.58 L208.30,192.74 L208.94,192.90 L209.59,193.07 L210.24,193.23 L210.88,193.38 L211.53,193.54 L212.18,193.70 L212.82,193.85 L213.47,194.01 L214.12,194.16 L214.77,194.31 L215.42,194.46 L216.07,194.61 L216.72,194.76 L217.37,194.91 L218.02,195.06 L218.67,195.20 L219.32,195.35 L219.97,195.49 L220.62,195.63 L221.28,195.77 L221.93,195.91 L222.58,196.05 L223.23,196.19 L223.89,196.32 L224.54,196.46 L225.19,196.59 L225.85,196.73 L226.50,196.86 L227.16,196.99 L227.81,197.12 L228.47,197.25 L229.12,197.38 L229.78,197.50 L230.43,197.63 L231.09,197.75 L231.75,197.88 L232.40,198.00 L233.06,198.12 L233.72,198.24 L234.38,198.36 L235.03,198.48 L235.69,198.60 L236.35,198.72 L237.01,198.83 L237.67,198.95 L238.33,199.06 L238.99,199.17 L239.64,199.29 L240.30,199.40 L240.96,199.51 L241.62,199.62 L242.28,199.73 L242.94,199.83 L243.61,199.94 L244.27,200.05 L244.93,200.15 L245.59,200.26 L246.25,200.36 L246.91,200.46 L247.57,200.56 L248.23,200.66 L248.90,200.76 L249.56,200.86 L250.22,200.96 L250.88,201.06 L251.55,201.15 L252.21,201.25 L252.87,201.34 L253.54,201.44 L254.20,201.53 L254.86,201.62 L255.53,201.72 L256.19,201.81 L256.86,201.90 L257.52,201.99 L258.18,202.07 L258.85,202.16 L259.51,202.25 L260.18,202.33 L260.84,202.42 L261.51,202.50 L262.17,202.59 L262.84,202.67 L263.50,202.75 L264.17,202.84 L264.84,202.92 L265.50,203.00 L266.17,203.08 L266.83,203.16 L267.50,203.23 L268.17,203.31 L268.83,203.39 L269.50,203.47 L270.16,203.54 L270.83,203.62 L271.50,203.69 L272.16,203.76 L272.83,203.84 L273.50,203.91 L274.16,203.98 L274.83,204.05 L275.50,204.12 L276.17,204.19 L276.83,204.26 L277.50,204.33 L278.17,204.40 L278.83,204.46 L279.50,204.53 L280.17,204.60 L280.84,204.66 L281.50,204.73 L282.17,204.79 L282.84,204.86 L283.51,204.92 L284.17,204.98 L284.84,205.05 L285.51,205.11 L286.18,205.17 L286.85,205.23 L287.51,205.29 L288.18,205.35 L288.85,205.41 L289.52,205.47 L290.18,205.53 L290.85,205.58 L291.52,205.64 L292.19,205.70 L292.85,205.75 L293.52,205.81 L294.19,205.87 L294.86,205.92 L295.53,205.98 L296.19,206.03 L296.86,206.08 L297.53,206.14 L298.20,206.19 L298.86,206.24 L299.53,206.29 L300.20,206.35 L300.86,206.40 L301.53,206.45 L302.20,206.50 L302.87,206.55 L303.53,206.60 L304.20,206.65 L304.87,206.70 L305.53,206.75 L306.20,206.79 L306.87,206.84 L307.53,206.89 L308.20,206.94 L308.87,206.98 L309.53,207.03 L310.20,207.08 L310.87,207.12 L311.53,207.17 L312.20,207.21 L312.87,207.26 L313.53,207.30 L314.20,207.35 L314.86,207.39 L315.53,207.44 L316.19,207.48 L316.86,207.52 L317.52,207.57 L318.19,207.61 L318.85,207.65 L319.52,207.69 L320.18,207.74 L320.85,207.78 L321.51,207.82 L322.18,207.86 L322.84,207.90 L323.50,207.95 L324.17,207.99 L324.83,208.03 L325.50,208.07 L326.16,208.11 L326.82,208.15 L327.49,208.19 L328.15,208.23 L328.81,208.27 L329.47,208.31 L330.14,208.35 L330.80,208.39 L331.46,208.43 L332.12,208.47 L332.78,208.51 L333.45,208.54 L334.11,208.58 L334.77,208.62 L335.43,208.66 L336.09,208.70 L336.75,208.74 L337.41,208.78 L338.07,208.82 L338.73,208.85 L339.39,208.89 L340.05,208.93 L340.71,208.97 L341.50,208.90" fill="none" stroke="#d95f02" stroke-width="1.05"/>
<path d="M42.70,216.00 L43.42,216.36 L44.11,216.41 L44.79,216.45 L45.48,216.49 L46.16,216.51 L46.84,216.53 L47.52,216.55 L48.20,216.55 L48.88,216.55 L49.55,216.55 L50.23,216.53 L50.90,216.51 L51.57,216.48 L52.24,216.45 L52.91,216.40 L53.57,216.36 L54.24,216.30 L54.90,216.24 L55.56,216.17 L56.22,216.10 L56.88,216.02 L57.53,215.93 L58.19,215.84 L58.84,215.75 L59.50,215.64 L60.15,215.53 L60.80,215.42 L61.45,215.30 L62.10,215.18 L62.74,215.05 L63.39,214.91 L64.03,214.77 L64.67,214.63 L65.32,214.48 L65.96,214.32 L66.60,214.16 L67.24,214.00 L67.87,213.83 L68.51,213.65 L69.14,213.47 L69.78,213.29 L70.41,213.10 L71.04,212.91 L71.68,212.72 L72.31,212.52 L72.94,212.32 L73.56,212.11 L74.19,211.90 L74.82,211.68 L75.45,211.47 L76.07,211.25 L76.70,211.02 L77.32,210.79 L77.94,210.56 L78.56,210.33 L79.19,210.09 L79.81,209.85 L80.43,209.61 L81.05,209.36 L81.67,209.11 L82.28,208.86 L82.90,208.61 L83.52,208.35 L84.14,208.09 L84.75,207.83 L85.37,207.57 L85.98,207.30 L86.60,207.04 L87.21,206.77 L87.83,206.50 L88.44,206.23 L89.06,205.95 L89.67,205.68 L90.28,205.40 L90.89,205.12 L91.51,204.84 L92.12,204.56 L92.73,204.28 L93.34,203.99 L93.95,203.71 L94.56,203.42 L95.17,203.14 L95.78,202.85 L96.39,202.56 L97.01,202.27 L97.62,201.99 L98.23,201.70 L98.84,201.41 L99.45,201.12 L100.06,200.83 L100.67,200.54 L101.28,200.25 L101.89,199.96 L102.50,199.67 L103.11,199.38 L103.72,199.10 L104.33,198.81 L104.94,198.52 L105.55,198.23 L106.17,197.95 L106.78,197.66 L107.39,197.38 L108.00,197.10 L108.61,196.82 L109.23,196.54 L109.84,196.26 L110.45,195.98 L111.07,195.70 L111.68,195.43 L112.30,195.15 L112.91,194.88 L113.53,194.61 L114.15,194.34 L114.76,194.08 L115.38,193.81 L116.00,193.55 L116.62,193.29 L117.23,193.04 L117.85,192.78 L118.47,192.53 L119.10,192.28 L119.72,192.03 L120.34,191.79 L120.96,191.54 L121.59,191.31 L122.21,191.07 L122.84,190.84 L123.46,190.61 L124.09,190.38 L124.72,190.16 L125.34,189.94 L125.97,189.72 L126.60,189.51 L127.23,189.30 L127.87,189.09 L128.50,188.88 L129.13,188.68 L129.76,188.48 L130.40,188.28 L131.03,188.09 L131.67,187.90 L132.31,187.71 L132.94,187.52 L133.58,187.34 L134.22,187.16 L134.86,186.99 L135.50,186.81 L136.14,186.64 L136.78,186.47 L137.42,186.30 L138.06,186.14 L138.70,185.98 L139.35,185.82 L139.99,185.66 L140.64,185.51 L141.28,185.36 L141.93,185.21 L142.57,185.06 L143.22,184.92 L143.87,184.78 L144.52,184.64 L145.17,184.50 L145.81,184.37 L146.46,184.24 L147.12,184.11 L147.77,183.98 L148.42,183.85 L149.07,183.73 L149.72,183.61 L150.37,183.49 L151.03,183.38 L151.68,183.26 L152.34,183.15 L152.99,183.04 L153.65,182.93 L154.30,182.83 L154.96,182.72 L155.62,182.62 L156.27,182.52 L156.93,182.42 L157.59,182.33 L158.25,182.23 L158.91,182.14 L159.56,182.05 L160.22,181.96 L160.88,181.88 L161.55,181.79 L162.21,181.71 L162.87,181.63 L163.53,181.55 L164.19,181.47 L164.85,181.40 L165.52,181.32 L166.18,181.25 L166.84,181.18 L167.51,181.11 L168.17,181.04 L168.84,180.98 L169.50,180.91 L170.16,180.85 L170.83,180.79 L171.50,180.73 L172.16,180.67 L172.83,180.61 L173.49,180.56 L174.16,180.50 L174.83,180.45 L175.50,180.40 L176.16,180.35 L176.83,180.30 L177.50,180.25 L178.17,180.21 L178.84,180.16 L179.50,180.12 L180.17,180.07 L180.84,180.03 L181.51,179.99 L182.18,179.95 L182.85,179.92 L183.52,179.88 L184.19,179.84 L184.86,179.81 L185.53,179.78 L186.20,179.74 L186.87,179.71 L187.54,179.68 L188.21,179.65 L188.88,179.62 L189.56,179.59 L190.23,179.57 L190.90,179.54 L191.57,179.52 L192.24,179.49 L192.91,179.47 L193.58,179.44 L194.26,179.42 L194.93,179.40 L195.60,179.38 L196.27,179.36 L196.94,179.34 L197.62,179.32 L198.29,179.30 L198.96,179.29 L199.63,179.27 L200.30,179.25 L200.98,179.24 L201.65,179.22 L202.32,179.21 L202.99,179.19 L203.67,179.18 L204.34,179.16 L205.01,179.15 L205.68,179.14 L206.35,179.13 L207.03,179.11 L207.70,179.10 L208.37,179.09 L209.04,179.08 L209.71,179.07 L210.38,179.06 L211.06,179.05 L211.73,179.04 L212.40,179.03 L213.07,179.02 L213.74,179.01 L214.41,179.00 L215.08,178.99 L215.75,178.98 L216.42,178.97 L217.10,178.96 L217.77,178.95 L218.44,178.95 L219.11,178.94 L219.78,178.93 L220.45,178.92 L221.12,178.92 L221.79,178.91 L222.46,178.90 L223.13,178.89 L223.80,178.89 L224.47,178.88 L225.14,178.87 L225.81,178.87 L226.48,178.86 L227.15,178.86 L227.82,178.85 L228.49,178.84 L229.16,178.84 L229.83,178.83 L230.50,178.83 L231.17,178.82 L231.84,178.82 L232.51,178.81 L233.18,178.81 L233.85,178.80 L234.52,178.80 L235.19,178.79 L235.86,178.79 L236.52,178.78 L237.19,178.78 L237.86,178.77 L238.53,178.77 L239.20,178.76 L239.87,178.76 L240.54,178.76 L241.21,178.75 L241.88,178.75 L242.55,178.74 L243.21,178.74 L243.88,178.73 L244.55,178.73 L245.22,178.73 L245.89,178.72 L246.56,178.72 L247.23,178.71 L247.90,178.71 L248.56,178.71 L249.23,178.70 L249.90,178.70 L250.57,178.69 L251.24,178.69 L251.91,178.68 L252.57,178.68 L253.24,178.68 L253.91,178.67 L254.58,178.67 L255.25,178.66 L255.92,178.66 L256.58,178.65 L257.25,178.65 L257.92,178.64 L258.59,178.64 L259.26,178.63 L259.93,178.63 L260.59,178.62 L261.26,178.62 L261.93,178.61 L262.60,178.61 L263.27,178.60 L263.93,178.60 L264.60,178.59 L265.27,178.58 L265.94,178.58 L266.61,178.57 L267.27,178.57 L267.94,178.56 L268.61,178.55 L269.28,178.55 L269.95,178.54 L270.61,178.53 L271.28,178.52 L271.95,178.52 L272.62,178.51 L273.29,178.50 L273.95,178.49 L274.62,178.49 L275.29,178.48 L275.96,178.47 L276.63,178.46 L277.29,178.45 L277.96,178.44 L278.63,178.43 L279.30,178.42 L279.97,178.41 L280.63,178.40 L281.30,178.39 L281.97,178.38 L282.64,178.37 L283.31,178.36 L283.97,178.35 L284.64,178.34 L285.31,178.33 L285.98,178.31 L286.65,178.30 L287.32,178.29 L287.98,178.28 L288.65,178.26 L289.32,178.25 L289.99,178.23 L290.66,178.22 L291.32,178.21 L291.99,178.19 L292.66,178.18 L293.33,178.16 L294.00,178.15 L294.67,178.13 L295.33,178.11 L296.00,178.10 L296.67,178.08 L297.34,178.06 L298.01,178.05 L298.68,178.03 L299.34,178.01 L300.01,177.99 L300.68,177.97 L301.35,177.95 L302.02,177.93 L302.69,177.91 L303.36,177.89 L304.02,177.87 L304.69,177.85 L305.36,177.83 L306.03,177.81 L306.70,177.78 L307.37,177.76 L308.04,177.74 L308.71,177.71 L309.38,177.69 L310.04,177.66 L310.71,177.64 L311.38,177.61 L312.05,177.59 L312.72,177.56 L313.39,177.53 L314.06,177.51 L314.73,177.48 L315.40,177.45 L316.07,177.42 L316.74,177.39 L317.41,177.36 L318.08,177.33 L318.75,177.30 L319.42,177.27 L320.09,177.24 L320.76,177.21 L321.43,177.17 L322.10,177.14 L322.77,177.11 L323.44,177.07 L324.11,177.04 L324.78,177.00 L325.45,176.97 L326.12,176.93 L326.79,176.90 L327.46,176.86 L328.13,176.82 L328.80,176.78 L329.47,176.74 L330.14,176.70 L330.81,176.66 L331.48,176.62 L332.15,176.58 L332.82,176.54 L333.49,176.50 L334.16,176.45 L334.84,176.41 L335.51,176.37 L336.18,176.32 L336.85,176.27 L337.52,176.23 L338.19,176.18 L338.86,176.13 L339.54,176.09 L340.21,176.04 L340.88,175.99 L341.50,176.20" fill="none" stroke="#d95f02" stroke-width="1.05" stroke-dasharray="3.0 1.5"/>
<path d="M42.70,207.00 L43.16,207.32 L43.87,207.53 L44.58,207.72 L45.29,207.90 L45.99,208.06 L46.69,208.21 L47.38,208.35 L48.08,208.47 L48.77,208.58 L49.45,208.67 L50.13,208.75 L50.81,208.82 L51.49,208.88 L52.17,208.92 L52.84,208.95 L53.51,208.97 L54.17,208.98 L54.84,208.97 L55.50,208.95 L56.16,208.92 L56.81,208.88 L57.46,208.83 L58.12,208.77 L58.76,208.70 L59.41,208.62 L60.05,208.52 L60.70,208.42 L61.34,208.31 L61.97,208.19 L62.61,208.06 L63.24,207.92 L63.87,207.77 L64.50,207.61 L65.13,207.45 L65.76,207.27 L66.38,207.09 L67.00,206.90 L67.62,206.71 L68.24,206.50 L68.86,206.29 L69.48,206.07 L70.09,205.85 L70.70,205.62 L71.32,205.38 L71.93,205.14 L72.54,204.89 L73.14,204.63 L73.75,204.37 L74.36,204.11 L74.96,203.83 L75.56,203.56 L76.17,203.28 L76.77,202.99 L77.37,202.71 L77.97,202.41 L78.57,202.12 L79.17,201.82 L79.77,201.52 L80.36,201.21 L80.96,200.90 L81.56,200.59 L82.15,200.28 L82.75,199.96 L83.34,199.64 L83.94,199.32 L84.53,199.00 L85.13,198.68 L85.72,198.35 L86.32,198.03 L86.91,197.70 L87.50,197.38 L88.10,197.05 L88.69,196.72 L89.29,196.40 L89.88,196.07 L90.48,195.74 L91.07,195.42 L91.67,195.09 L92.26,194.77 L92.86,194.44 L93.45,194.12 L94.05,193.80 L94.65,193.48 L95.24,193.16 L95.84,192.84 L96.44,192.53 L97.04,192.21 L97.64,191.90 L98.24,191.59 L98.84,191.28 L99.44,190.97 L100.05,190.67 L100.65,190.37 L101.25,190.07 L101.86,189.77 L102.46,189.48 L103.07,189.19 L103.68,188.90 L104.28,188.62 L104.89,188.34 L105.50,188.06 L106.12,187.79 L106.73,187.52 L107.34,187.25 L107.96,186.99 L108.57,186.73 L109.19,186.48 L109.81,186.23 L110.43,185.99 L111.05,185.75 L111.67,185.52 L112.30,185.29 L112.92,185.06 L113.55,184.84 L114.17,184.62 L114.80,184.41 L115.43,184.20 L116.06,184.00 L116.69,183.80 L117.33,183.61 L117.96,183.42 L118.60,183.24 L119.23,183.06 L119.87,182.88 L120.51,182.71 L121.15,182.54 L121.79,182.38 L122.43,182.22 L123.07,182.07 L123.72,181.92 L124.36,181.78 L125.01,181.64 L125.65,181.51 L126.30,181.38 L126.95,181.25 L127.60,181.13 L128.25,181.01 L128.90,180.90 L129.55,180.79 L130.20,180.69 L130.86,180.59 L131.51,180.50 L132.17,180.41 L132.82,180.32 L133.48,180.24 L134.14,180.17 L134.80,180.09 L135.45,180.02 L136.11,179.96 L136.77,179.90 L137.44,179.84 L138.10,179.79 L138.76,179.74 L139.42,179.70 L140.09,179.65 L140.75,179.62 L141.41,179.58 L142.08,179.55 L142.75,179.52 L143.41,179.50 L144.08,179.47 L144.75,179.46 L145.41,179.44 L146.08,179.43 L146.75,179.42 L147.42,179.41 L148.09,179.41 L148.76,179.41 L149.43,179.41 L150.10,179.41 L150.77,179.42 L151.44,179.43 L152.11,179.44 L152.79,179.45 L153.46,179.47 L154.13,179.48 L154.80,179.50 L155.48,179.52 L156.15,179.55 L156.82,179.57 L157.50,179.60 L158.17,179.63 L158.84,179.66 L159.52,179.69 L160.19,179.72 L160.87,179.76 L161.54,179.80 L162.21,179.83 L162.89,179.87 L163.56,179.91 L164.24,179.95 L164.91,180.00 L165.59,180.04 L166.26,180.08 L166.94,180.13 L167.61,180.17 L168.28,180.22 L168.96,180.26 L169.63,180.31 L170.31,180.36 L170.98,180.41 L171.65,180.46 L172.33,180.50 L173.00,180.55 L173.68,180.60 L174.35,180.65 L175.02,180.70 L175.69,180.75 L176.37,180.80 L177.04,180.84 L177.71,180.89 L178.38,180.94 L179.05,180.99 L179.72,181.03 L180.39,181.08 L181.06,181.13 L181.73,181.17 L182.40,181.22 L183.07,181.26 L183.74,181.31 L184.41,181.35 L185.08,181.40 L185.75,181.44 L186.42,181.48 L187.09,181.53 L187.75,181.57 L188.42,181.61 L189.09,181.66 L189.76,181.70 L190.43,181.74 L191.09,181.78 L191.76,181.82 L192.43,181.86 L193.09,181.90 L193.76,181.95 L194.43,181.99 L195.09,182.03 L195.76,182.07 L196.43,182.11 L197.09,182.14 L197.76,182.18 L198.43,182.22 L199.09,182.26 L199.76,182.30 L200.42,182.34 L201.09,182.38 L201.76,182.42 L202.42,182.45 L203.09,182.49 L203.75,182.53 L204.42,182.57 L205.09,182.60 L205.75,182.64 L206.42,182.68 L207.08,182.71 L207.75,182.75 L208.42,182.79 L209.08,182.82 L209.75,182.86 L210.41,182.90 L211.08,182.93 L211.75,182.97 L212.41,183.00 L213.08,183.04 L213.75,183.07 L214.41,183.11 L215.08,183.14 L215.75,183.18 L216.41,183.21 L217.08,183.25 L217.75,183.28 L218.42,183.32 L219.08,183.35 L219.75,183.39 L220.42,183.42 L221.08,183.45 L221.75,183.49 L222.42,183.52 L223.09,183.55 L223.75,183.58 L224.42,183.62 L225.09,183.65 L225.76,183.68 L226.43,183.71 L227.09,183.75 L227.76,183.78 L228.43,183.81 L229.10,183.84 L229.76,183.87 L230.43,183.90 L231.10,183.93 L231.77,183.96 L232.44,183.99 L233.11,184.02 L233.77,184.05 L234.44,184.08 L235.11,184.11 L235.78,184.14 L236.45,184.17 L237.12,184.20 L237.78,184.22 L238.45,184.25 L239.12,184.28 L239.79,184.31 L240.46,184.33 L241.13,184.36 L241.80,184.39 L242.46,184.41 L243.13,184.44 L243.80,184.47 L244.47,184.49 L245.14,184.52 L245.81,184.54 L246.48,184.57 L247.15,184.59 L247.82,184.61 L248.49,184.64 L249.15,184.66 L249.82,184.68 L250.49,184.71 L251.16,184.73 L251.83,184.75 L252.50,184.77 L253.17,184.80 L253.84,184.82 L254.51,184.84 L255.18,184.86 L255.85,184.88 L256.52,184.90 L257.19,184.92 L257.85,184.94 L258.52,184.96 L259.19,184.98 L259.86,184.99 L260.53,185.01 L261.20,185.03 L261.87,185.05 L262.54,185.06 L263.21,185.08 L263.88,185.10 L264.55,185.11 L265.22,185.13 L265.89,185.14 L266.56,185.16 L267.23,185.17 L267.90,185.19 L268.57,185.20 L269.24,185.21 L269.91,185.23 L270.58,185.24 L271.25,185.25 L271.92,185.26 L272.59,185.27 L273.26,185.28 L273.92,185.29 L274.59,185.30 L275.26,185.31 L275.93,185.32 L276.60,185.33 L277.27,185.34 L277.94,185.35 L278.61,185.36 L279.28,185.36 L279.95,185.37 L280.62,185.38 L281.29,185.38 L281.96,185.39 L282.63,185.39 L283.30,185.40 L283.97,185.40 L284.64,185.41 L285.31,185.41 L285.98,185.41 L286.65,185.41 L287.32,185.42 L287.99,185.42 L288.66,185.42 L289.33,185.42 L290.00,185.42 L290.67,185.42 L291.34,185.42 L292.01,185.42 L292.68,185.41 L293.35,185.41 L294.01,185.41 L294.68,185.41 L295.35,185.40 L296.02,185.40 L296.69,185.39 L297.36,185.39 L298.03,185.38 L298.70,185.38 L299.37,185.37 L300.04,185.36 L300.71,185.35 L301.38,185.35 L302.05,185.34 L302.72,185.33 L303.39,185.32 L304.06,185.31 L304.73,185.30 L305.39,185.28 L306.06,185.27 L306.73,185.26 L307.40,185.25 L308.07,185.23 L308.74,185.22 L309.41,185.20 L310.08,185.19 L310.75,185.17 L311.42,185.16 L312.09,185.14 L312.75,185.12 L313.42,185.11 L314.09,185.09 L314.76,185.07 L315.43,185.05 L316.10,185.03 L316.77,185.01 L317.44,184.98 L318.10,184.96 L318.77,184.94 L319.44,184.92 L320.11,184.89 L320.78,184.87 L321.45,184.84 L322.11,184.82 L322.78,184.79 L323.45,184.76 L324.12,184.74 L324.79,184.71 L325.46,184.68 L326.12,184.65 L326.79,184.62 L327.46,184.59 L328.13,184.56 L328.80,184.53 L329.46,184.50 L330.13,184.46 L330.80,184.43 L331.47,184.39 L332.14,184.36 L332.80,184.32 L333.47,184.29 L334.14,184.25 L334.81,184.21 L335.47,184.18 L336.14,184.14 L336.81,184.10 L337.47,184.06 L338.14,184.02 L338.81,183.97 L339.48,183.93 L340.14,183.89 L340.81,183.85 L341.50,183.90" fill="none" stroke="#d95f02" stroke-width="2.3"/>
<path d="M42.50,224.20 L116.50,224.20 L117.19,224.20 L117.91,224.20 L118.61,224.20 L119.30,224.20 L119.97,224.20 L120.62,224.20 L121.25,224.07 L121.87,223.85 L122.48,223.59 L123.06,223.29 L123.63,222.96 L124.18,222.59 L124.71,222.20 L125.23,221.78 L125.73,221.33 L126.21,220.87 L126.67,220.39 L127.12,219.89 L127.55,219.38 L127.96,218.86 L128.35,218.33 L128.73,217.79 L129.09,217.25 L129.44,216.69 L129.77,216.13 L130.09,215.55 L130.39,214.97 L130.68,214.38 L130.96,213.79 L131.22,213.19 L131.48,212.58 L131.72,211.96 L131.95,211.34 L132.18,210.72 L132.39,210.09 L132.60,209.45 L132.79,208.81 L132.98,208.17 L133.16,207.52 L133.34,206.87 L133.51,206.22 L133.67,205.57 L133.83,204.91 L133.98,204.25 L134.13,203.59 L134.28,202.92 L134.43,202.26 L134.57,201.60 L134.71,200.93 L134.85,200.27 L134.98,199.61 L135.12,198.94 L135.26,198.28 L135.40,197.62 L135.53,196.96 L135.67,196.30 L135.80,195.64 L135.94,194.98 L136.07,194.33 L136.21,193.67 L136.34,193.01 L136.48,192.35 L136.61,191.70 L136.74,191.04 L136.87,190.39 L137.00,189.73 L137.13,189.08 L137.26,188.42 L137.39,187.77 L137.52,187.11 L137.65,186.46 L137.77,185.81 L137.90,185.15 L138.03,184.50 L138.15,183.85 L138.28,183.19 L138.40,182.54 L138.52,181.89 L138.64,181.23 L138.77,180.58 L138.89,179.92 L139.01,179.27 L139.12,178.62 L139.24,177.96 L139.36,177.31 L139.48,176.66 L139.59,176.00 L139.71,175.35 L139.82,174.69 L139.93,174.04 L140.05,173.38 L140.16,172.72 L140.27,172.07 L140.38,171.41 L140.49,170.75 L140.59,170.10 L140.70,169.44 L140.81,168.78 L140.91,168.12 L141.02,167.47 L141.12,166.81 L141.22,166.15 L141.33,165.49 L141.43,164.83 L141.53,164.17 L141.63,163.51 L141.73,162.85 L141.83,162.19 L141.93,161.53 L142.03,160.87 L142.12,160.21 L142.22,159.55 L142.32,158.89 L142.41,158.22 L142.51,157.56 L142.60,156.90 L142.70,156.24 L142.79,155.58 L142.88,154.91 L142.97,154.25 L143.07,153.59 L143.16,152.93 L143.25,152.26 L143.34,151.60 L143.43,150.94 L143.52,150.27 L143.61,149.61 L143.70,148.95 L143.79,148.28 L143.88,147.62 L143.97,146.96 L144.05,146.29 L144.14,145.63 L144.23,144.97 L144.32,144.30 L144.40,143.64 L144.49,142.97 L144.58,142.31 L144.66,141.65 L144.75,140.98 L144.84,140.32 L144.92,139.65 L145.01,138.99 L145.09,138.32 L145.18,137.66 L145.26,137.00 L145.35,136.33 L145.43,135.67 L145.52,135.00 L145.61,134.34 L145.69,133.68 L145.78,133.01 L145.86,132.35 L145.95,131.68 L146.03,131.02 L146.12,130.36 L146.20,129.69 L146.29,129.03 L146.37,128.37 L146.46,127.70 L146.54,127.04 L146.63,126.38 L146.72,125.71 L146.80,125.05 L146.89,124.39 L146.97,123.72 L147.06,123.06 L147.15,122.40 L147.24,121.74 L147.32,121.07 L147.41,120.41 L147.50,119.75 L147.59,119.09 L147.68,118.43 L147.76,117.77 L147.85,117.11 L147.94,116.44 L148.03,115.78 L148.12,115.12 L148.21,114.46 L148.30,113.80 L148.40,113.14 L148.49,112.48 L148.58,111.82 L148.67,111.16 L148.76,110.50 L148.86,109.84 L148.95,109.19 L149.04,108.53 L149.14,107.87 L149.23,107.21 L149.33,106.55 L149.42,105.89 L149.52,105.23 L149.61,104.57 L149.71,103.91 L149.80,103.26 L149.90,102.60 L149.99,101.94 L150.09,101.28 L150.19,100.62 L150.29,99.96 L150.38,99.30 L150.48,98.65 L150.58,97.99 L150.68,97.33 L150.78,96.67 L150.88,96.01 L150.98,95.35 L151.07,94.70 L151.17,94.04 L151.27,93.38 L151.38,92.72 L151.48,92.06 L151.58,91.40 L151.68,90.74 L151.78,90.08 L151.88,89.43 L151.98,88.77 L152.09,88.11 L152.19,87.45 L152.29,86.79 L152.39,86.13 L152.50,85.47 L152.60,84.81 L152.71,84.15 L152.81,83.49 L152.91,82.83 L153.02,82.17 L153.12,81.51 L153.23,80.85 L153.33,80.18 L153.44,79.52 L153.54,78.86 L153.65,78.20 L153.76,77.54 L153.86,76.88 L153.97,76.21 L154.08,75.55 L154.18,74.89 L154.29,74.23 L154.40,73.56 L154.51,72.90 L154.62,72.23 L154.72,71.57 L154.83,70.91 L154.94,70.24 L155.05,69.58 L155.16,68.91 L155.27,68.25 L155.38,67.58 L155.49,66.91 L155.60,66.25 L155.71,65.58 L155.82,64.91 L155.93,64.25 L156.04,63.58 L156.16,62.91 L156.28,62.24 L156.41,61.57 L156.55,60.90 L156.70,60.23 L156.85,59.56 L157.02,58.88 L157.20,58.21 L157.40,57.53 L157.61,56.86 L157.83,56.18 L158.08,55.50 L158.34,54.83 L158.62,54.15 L158.92,53.49 L159.24,52.85 L159.57,52.24 L159.91,51.65 L160.27,51.10 L160.64,50.60 L161.03,50.14 L161.42,49.74 L161.83,49.41 L162.24,49.14 L162.67,48.94 L163.09,48.82 L163.52,48.77 L163.95,48.80 L164.37,48.90 L164.78,49.07 L165.18,49.32 L165.57,49.64 L165.95,50.02 L166.31,50.45 L166.67,50.93 L167.02,51.46 L167.35,52.03 L167.68,52.62 L168.00,53.24 L168.31,53.88 L168.62,54.53 L168.91,55.19 L169.20,55.84 L169.48,56.50 L169.76,57.16 L170.03,57.81 L170.29,58.47 L170.55,59.12 L170.80,59.78 L171.04,60.43 L171.28,61.08 L171.52,61.73 L171.75,62.39 L171.97,63.04 L172.19,63.69 L172.41,64.34 L172.62,64.99 L172.83,65.64 L173.03,66.29 L173.23,66.94 L173.42,67.59 L173.62,68.23 L173.81,68.88 L173.99,69.53 L174.18,70.17 L174.36,70.82 L174.53,71.47 L174.71,72.11 L174.88,72.76 L175.06,73.40 L175.23,74.05 L175.39,74.69 L175.56,75.34 L175.73,75.98 L175.89,76.63 L176.06,77.27 L176.22,77.91 L176.39,78.56 L176.55,79.20 L176.71,79.84 L176.88,80.48 L177.04,81.13 L177.20,81.77 L177.37,82.41 L177.54,83.05 L177.70,83.69 L177.87,84.34 L178.04,84.98 L178.21,85.62 L178.38,86.26 L178.56,86.90 L178.73,87.54 L178.91,88.18 L179.09,88.82 L179.27,89.46 L179.45,90.10 L179.63,90.74 L179.81,91.38 L179.99,92.02 L180.18,92.66 L180.37,93.30 L180.55,93.94 L180.74,94.58 L180.93,95.22 L181.12,95.86 L181.32,96.49 L181.51,97.13 L181.71,97.77 L181.90,98.41 L182.10,99.04 L182.30,99.68 L182.50,100.32 L182.70,100.95 L182.90,101.59 L183.11,102.23 L183.31,102.86 L183.52,103.50 L183.73,104.13 L183.93,104.77 L184.14,105.40 L184.36,106.03 L184.57,106.67 L184.78,107.30 L185.00,107.93 L185.21,108.57 L185.43,109.20 L185.65,109.83 L185.87,110.46 L186.09,111.09 L186.31,111.73 L186.53,112.36 L186.76,112.99 L186.98,113.62 L187.21,114.25 L187.44,114.88 L187.67,115.50 L187.90,116.13 L188.13,116.76 L188.36,117.39 L188.59,118.02 L188.83,118.64 L189.07,119.27 L189.30,119.89 L189.54,120.52 L189.78,121.14 L190.02,121.77 L190.26,122.39 L190.51,123.02 L190.75,123.64 L191.00,124.26 L191.24,124.89 L191.49,125.51 L191.74,126.13 L191.99,126.75 L192.24,127.37 L192.49,127.99 L192.74,128.61 L193.00,129.23 L193.25,129.85 L193.51,130.46 L193.77,131.08 L194.03,131.70 L194.29,132.31 L194.55,132.93 L194.81,133.55 L195.07,134.16 L195.34,134.77 L195.60,135.39 L195.87,136.00 L196.14,136.61 L196.41,137.22 L196.67,137.84 L196.95,138.45 L197.22,139.06 L197.49,139.67 L197.76,140.27 L198.04,140.88 L198.32,141.49 L198.59,142.10 L198.87,142.70 L199.15,143.31 L199.43,143.92 L199.71,144.52 L200.00,145.12 L200.28,145.73 L200.56,146.33 L200.85,146.93 L201.14,147.53 L201.42,148.13 L201.71,148.73 L202.00,149.33 L202.29,149.93 L202.59,150.53 L202.88,151.13 L203.18,151.72 L203.47,152.32 L203.77,152.91 L204.07,153.51 L204.37,154.10 L204.67,154.70 L204.98,155.29 L205.28,155.88 L205.59,156.47 L205.90,157.06 L206.21,157.65 L206.52,158.24 L206.83,158.83 L207.15,159.42 L207.46,160.00 L207.78,160.59 L208.10,161.18 L208.43,161.76 L208.75,162.35 L209.08,162.93 L209.40,163.51 L209.74,164.09 L210.07,164.68 L210.40,165.26 L210.74,165.84 L211.08,166.42 L211.42,167.00 L211.76,167.57 L212.11,168.15 L212.45,168.73 L212.80,169.30 L213.16,169.88 L213.51,170.45 L213.87,171.02 L214.23,171.59 L214.60,172.15 L214.97,172.72 L215.34,173.28 L215.72,173.83 L216.10,174.38 L216.49,174.93 L216.89,175.47 L217.28,176.01 L217.69,176.54 L218.10,177.07 L218.51,177.59 L218.94,178.10 L219.37,178.61 L219.80,179.11 L220.24,179.60 L220.69,180.09 L221.15,180.57 L221.61,181.04 L222.08,181.51 L222.55,181.97 L223.04,182.42 L223.52,182.87 L224.01,183.31 L224.51,183.75 L225.02,184.18 L225.52,184.60 L226.04,185.02 L226.55,185.43 L227.08,185.84 L227.60,186.25 L228.13,186.65 L228.67,187.04 L229.21,187.43 L229.75,187.82 L230.29,188.20 L230.84,188.58 L231.39,188.96 L231.95,189.33 L232.50,189.70 L233.06,190.07 L233.62,190.43 L234.19,190.80 L234.75,191.16 L235.32,191.51 L235.89,191.87 L236.46,192.22 L237.03,192.57 L237.60,192.92 L238.17,193.27 L238.75,193.62 L239.32,193.96 L239.90,194.31 L240.47,194.65 L241.05,194.99 L241.63,195.33 L242.21,195.66 L242.79,196.00 L243.37,196.33 L243.96,196.66 L244.54,196.99 L245.13,197.32 L245.71,197.64 L246.30,197.97 L246.89,198.29 L247.48,198.61 L248.07,198.93 L248.66,199.24 L249.25,199.56 L249.84,199.87 L250.43,200.18 L251.03,200.48 L251.62,200.79 L252.22,201.09 L252.82,201.39 L253.42,201.69 L254.02,201.99 L254.62,202.28 L255.22,202.58 L255.82,202.87 L256.43,203.15 L257.03,203.44 L257.64,203.72 L258.24,204.01 L258.85,204.28 L259.46,204.56 L260.07,204.83 L260.68,205.11 L261.29,205.38 L261.90,205.64 L262.51,205.91 L263.13,206.17 L263.74,206.43 L264.36,206.68 L264.97,206.94 L265.59,207.19 L266.21,207.44 L266.83,207.69 L267.45,207.93 L268.07,208.17 L268.69,208.41 L269.32,208.65 L269.94,208.88 L270.57,209.11 L271.19,209.34 L271.82,209.57 L272.45,209.79 L273.07,210.01 L273.70,210.23 L274.33,210.44 L274.97,210.65 L275.60,210.86 L276.23,211.07 L276.86,211.27 L277.50,211.47 L278.13,211.67 L278.77,211.86 L279.41,212.05 L280.05,212.24 L280.69,212.42 L281.33,212.61 L281.97,212.79 L282.61,212.96 L283.25,213.13 L283.89,213.30 L284.54,213.47 L285.18,213.63 L285.83,213.79 L286.48,213.95 L287.12,214.10 L287.77,214.26 L288.42,214.40 L289.07,214.55 L289.72,214.69 L290.38,214.83 L291.03,214.96 L291.68,215.09 L292.34,215.22 L292.99,215.35 L293.65,215.47 L294.30,215.59 L294.96,215.71 L295.62,215.82 L296.27,215.94 L296.93,216.05 L297.59,216.16 L298.25,216.26 L298.91,216.36 L299.57,216.46 L300.24,216.56 L300.90,216.66 L301.56,216.75 L302.22,216.84 L302.89,216.93 L303.55,217.02 L304.21,217.11 L304.88,217.19 L305.54,217.27 L306.21,217.35 L306.87,217.43 L307.54,217.51 L308.21,217.58 L308.87,217.65 L309.54,217.73 L310.20,217.80 L310.87,217.87 L311.54,217.93 L312.21,218.00 L312.87,218.07 L313.54,218.13 L314.21,218.19 L314.88,218.26 L315.54,218.32 L316.21,218.38 L316.88,218.43 L317.55,218.49 L318.22,218.55 L318.88,218.61 L319.55,218.66 L320.22,218.72 L320.89,218.77 L321.55,218.83 L322.22,218.88 L322.89,218.93 L323.56,218.99 L324.22,219.04 L324.89,219.09 L325.56,219.14 L326.22,219.20 L326.89,219.25 L327.56,219.30 L328.22,219.35 L328.89,219.40 L329.55,219.46 L330.22,219.51 L330.88,219.56 L331.54,219.61 L332.21,219.67 L332.87,219.72 L333.53,219.77 L334.19,219.83 L334.86,219.88 L335.52,219.94 L336.18,220.00 L336.84,220.05 L337.50,220.11 L338.16,220.17 L338.81,220.23 L339.47,220.29 L340.13,220.35 L340.79,220.41 L341.50,220.40" fill="none" stroke="#d95f02" stroke-width="1.05"/>
<path d="M42.50,224.20 L117.50,224.20 L118.22,224.20 L118.97,224.20 L119.70,224.20 L120.40,224.20 L121.07,224.20 L121.72,224.20 L122.34,224.15 L122.95,223.93 L123.53,223.66 L124.09,223.35 L124.63,223.01 L125.15,222.63 L125.65,222.22 L126.14,221.78 L126.61,221.31 L127.07,220.83 L127.51,220.33 L127.93,219.82 L128.35,219.30 L128.75,218.77 L129.14,218.23 L129.52,217.68 L129.88,217.12 L130.24,216.56 L130.58,215.99 L130.92,215.42 L131.24,214.84 L131.56,214.25 L131.86,213.65 L132.16,213.06 L132.45,212.45 L132.72,211.84 L133.00,211.23 L133.26,210.61 L133.51,209.99 L133.76,209.37 L134.00,208.74 L134.23,208.11 L134.46,207.48 L134.68,206.84 L134.90,206.21 L135.11,205.57 L135.31,204.93 L135.51,204.29 L135.71,203.65 L135.90,203.00 L136.09,202.36 L136.27,201.72 L136.45,201.07 L136.62,200.43 L136.79,199.78 L136.96,199.14 L137.12,198.49 L137.28,197.84 L137.44,197.19 L137.59,196.54 L137.74,195.89 L137.89,195.24 L138.04,194.59 L138.18,193.94 L138.32,193.29 L138.46,192.64 L138.59,191.98 L138.73,191.33 L138.86,190.68 L138.99,190.02 L139.12,189.37 L139.25,188.71 L139.38,188.06 L139.50,187.40 L139.63,186.75 L139.76,186.09 L139.88,185.44 L140.00,184.78 L140.13,184.13 L140.25,183.47 L140.38,182.82 L140.50,182.16 L140.63,181.51 L140.75,180.85 L140.88,180.20 L141.00,179.54 L141.13,178.89 L141.26,178.23 L141.39,177.58 L141.52,176.92 L141.65,176.27 L141.78,175.61 L141.91,174.96 L142.04,174.30 L142.17,173.65 L142.30,172.99 L142.43,172.34 L142.57,171.68 L142.70,171.03 L142.83,170.37 L142.97,169.72 L143.10,169.07 L143.24,168.41 L143.37,167.76 L143.50,167.10 L143.64,166.45 L143.77,165.79 L143.91,165.14 L144.04,164.48 L144.18,163.83 L144.31,163.17 L144.45,162.52 L144.58,161.87 L144.72,161.21 L144.85,160.56 L144.99,159.90 L145.12,159.25 L145.26,158.59 L145.39,157.94 L145.53,157.28 L145.66,156.63 L145.80,155.97 L145.93,155.32 L146.06,154.66 L146.20,154.01 L146.33,153.35 L146.46,152.70 L146.59,152.04 L146.73,151.38 L146.86,150.73 L146.99,150.07 L147.12,149.42 L147.25,148.76 L147.38,148.10 L147.51,147.45 L147.63,146.79 L147.76,146.14 L147.89,145.48 L148.01,144.82 L148.14,144.17 L148.27,143.51 L148.39,142.85 L148.51,142.19 L148.64,141.54 L148.76,140.88 L148.88,140.22 L149.00,139.56 L149.12,138.91 L149.24,138.25 L149.35,137.59 L149.47,136.93 L149.59,136.27 L149.70,135.61 L149.81,134.95 L149.93,134.29 L150.04,133.63 L150.15,132.98 L150.26,132.32 L150.37,131.66 L150.48,131.00 L150.59,130.34 L150.69,129.68 L150.80,129.02 L150.91,128.36 L151.02,127.69 L151.12,127.03 L151.23,126.37 L151.34,125.71 L151.44,125.05 L151.55,124.39 L151.66,123.73 L151.76,123.07 L151.87,122.41 L151.98,121.75 L152.09,121.09 L152.20,120.43 L152.31,119.77 L152.42,119.12 L152.53,118.46 L152.64,117.80 L152.75,117.14 L152.87,116.48 L152.98,115.82 L153.10,115.16 L153.22,114.51 L153.34,113.85 L153.46,113.19 L153.58,112.54 L153.70,111.88 L153.83,111.22 L153.95,110.57 L154.08,109.91 L154.21,109.26 L154.34,108.60 L154.48,107.95 L154.62,107.29 L154.75,106.64 L154.90,105.99 L155.04,105.34 L155.18,104.68 L155.33,104.03 L155.48,103.38 L155.64,102.73 L155.79,102.08 L155.95,101.43 L156.11,100.78 L156.28,100.14 L156.44,99.49 L156.62,98.84 L156.79,98.20 L156.97,97.55 L157.15,96.91 L157.33,96.26 L157.52,95.62 L157.71,94.98 L157.90,94.34 L158.10,93.69 L158.30,93.05 L158.51,92.41 L158.72,91.78 L158.93,91.14 L159.15,90.50 L159.37,89.86 L159.59,89.23 L159.82,88.59 L160.06,87.96 L160.30,87.33 L160.54,86.70 L160.79,86.07 L161.04,85.44 L161.30,84.81 L161.56,84.18 L161.83,83.55 L162.10,82.93 L162.37,82.30 L162.66,81.69 L162.96,81.10 L163.27,80.55 L163.60,80.05 L163.96,79.63 L164.36,79.30 L164.78,79.07 L165.25,78.96 L165.75,78.98 L166.27,79.12 L166.80,79.36 L167.33,79.71 L167.84,80.14 L168.35,80.64 L168.85,81.20 L169.33,81.79 L169.80,82.39 L170.25,83.00 L170.69,83.61 L171.11,84.21 L171.52,84.81 L171.91,85.41 L172.30,86.01 L172.67,86.61 L173.03,87.20 L173.38,87.79 L173.72,88.38 L174.06,88.97 L174.38,89.56 L174.70,90.15 L175.01,90.74 L175.32,91.33 L175.62,91.92 L175.91,92.51 L176.21,93.10 L176.50,93.69 L176.79,94.28 L177.07,94.87 L177.36,95.47 L177.64,96.06 L177.93,96.66 L178.21,97.25 L178.49,97.85 L178.77,98.45 L179.05,99.04 L179.32,99.64 L179.60,100.24 L179.88,100.84 L180.15,101.44 L180.43,102.05 L180.70,102.65 L180.98,103.25 L181.25,103.85 L181.52,104.46 L181.80,105.06 L182.07,105.67 L182.34,106.27 L182.61,106.88 L182.88,107.48 L183.16,108.09 L183.43,108.70 L183.70,109.30 L183.97,109.91 L184.25,110.52 L184.52,111.13 L184.79,111.73 L185.07,112.34 L185.34,112.95 L185.62,113.56 L185.89,114.16 L186.17,114.77 L186.45,115.38 L186.73,115.99 L187.01,116.59 L187.29,117.20 L187.57,117.81 L187.85,118.41 L188.13,119.02 L188.42,119.63 L188.70,120.23 L188.99,120.84 L189.28,121.44 L189.57,122.05 L189.86,122.65 L190.15,123.26 L190.45,123.86 L190.74,124.46 L191.04,125.07 L191.33,125.67 L191.63,126.27 L191.93,126.87 L192.24,127.47 L192.54,128.07 L192.85,128.67 L193.15,129.26 L193.46,129.86 L193.77,130.46 L194.08,131.05 L194.40,131.64 L194.71,132.24 L195.03,132.83 L195.35,133.42 L195.67,134.01 L195.99,134.60 L196.31,135.19 L196.64,135.77 L196.97,136.36 L197.30,136.94 L197.63,137.52 L197.96,138.11 L198.30,138.69 L198.64,139.26 L198.98,139.84 L199.32,140.42 L199.66,140.99 L200.01,141.56 L200.36,142.14 L200.71,142.71 L201.06,143.27 L201.42,143.84 L201.77,144.41 L202.13,144.97 L202.50,145.53 L202.86,146.09 L203.23,146.65 L203.60,147.20 L203.97,147.76 L204.34,148.31 L204.72,148.86 L205.10,149.41 L205.48,149.96 L205.86,150.50 L206.25,151.04 L206.64,151.58 L207.03,152.12 L207.43,152.66 L207.82,153.19 L208.22,153.72 L208.63,154.25 L209.03,154.78 L209.44,155.31 L209.85,155.83 L210.27,156.35 L210.69,156.87 L211.11,157.38 L211.53,157.89 L211.95,158.40 L212.38,158.91 L212.82,159.42 L213.25,159.92 L213.69,160.42 L214.13,160.92 L214.57,161.41 L215.02,161.90 L215.47,162.39 L215.92,162.88 L216.38,163.37 L216.84,163.85 L217.30,164.33 L217.76,164.81 L218.23,165.28 L218.70,165.75 L219.17,166.22 L219.64,166.69 L220.12,167.15 L220.60,167.62 L221.08,168.08 L221.56,168.53 L222.05,168.99 L222.54,169.44 L223.03,169.89 L223.53,170.34 L224.02,170.78 L224.52,171.23 L225.02,171.67 L225.53,172.11 L226.03,172.54 L226.54,172.98 L227.05,173.41 L227.56,173.84 L228.08,174.26 L228.59,174.69 L229.11,175.11 L229.63,175.53 L230.16,175.95 L230.68,176.36 L231.21,176.77 L231.74,177.18 L232.27,177.59 L232.80,178.00 L233.33,178.40 L233.87,178.80 L234.41,179.20 L234.95,179.60 L235.49,180.00 L236.03,180.39 L236.58,180.78 L237.12,181.17 L237.67,181.55 L238.22,181.94 L238.77,182.32 L239.33,182.70 L239.88,183.08 L240.44,183.45 L240.99,183.83 L241.55,184.20 L242.11,184.57 L242.68,184.93 L243.24,185.30 L243.80,185.66 L244.37,186.02 L244.94,186.38 L245.50,186.74 L246.07,187.09 L246.64,187.45 L247.21,187.80 L247.79,188.15 L248.36,188.49 L248.94,188.84 L249.51,189.18 L250.09,189.52 L250.67,189.86 L251.25,190.20 L251.83,190.53 L252.41,190.87 L252.99,191.20 L253.57,191.53 L254.16,191.85 L254.74,192.18 L255.33,192.50 L255.91,192.82 L256.50,193.14 L257.09,193.46 L257.68,193.77 L258.27,194.08 L258.86,194.39 L259.45,194.70 L260.05,195.01 L260.64,195.31 L261.24,195.61 L261.83,195.91 L262.43,196.21 L263.03,196.51 L263.63,196.80 L264.23,197.09 L264.83,197.38 L265.43,197.67 L266.04,197.95 L266.64,198.24 L267.24,198.52 L267.85,198.79 L268.46,199.07 L269.06,199.34 L269.67,199.61 L270.28,199.88 L270.89,200.15 L271.50,200.42 L272.12,200.68 L272.73,200.94 L273.34,201.19 L273.96,201.45 L274.57,201.70 L275.19,201.95 L275.81,202.20 L276.43,202.45 L277.05,202.69 L277.67,202.93 L278.29,203.17 L278.91,203.41 L279.54,203.64 L280.16,203.87 L280.79,204.10 L281.41,204.33 L282.04,204.56 L282.67,204.78 L283.29,205.00 L283.92,205.21 L284.55,205.43 L285.19,205.64 L285.82,205.85 L286.45,206.06 L287.09,206.26 L287.72,206.47 L288.36,206.67 L288.99,206.86 L289.63,207.06 L290.27,207.25 L290.91,207.44 L291.55,207.63 L292.19,207.81 L292.83,207.99 L293.47,208.17 L294.12,208.35 L294.76,208.52 L295.41,208.70 L296.05,208.86 L296.70,209.03 L297.35,209.19 L298.00,209.36 L298.65,209.52 L299.30,209.67 L299.95,209.83 L300.60,209.98 L301.25,210.13 L301.91,210.28 L302.56,210.42 L303.21,210.57 L303.87,210.71 L304.52,210.85 L305.18,210.98 L305.84,211.12 L306.49,211.25 L307.15,211.38 L307.81,211.51 L308.47,211.64 L309.12,211.77 L309.78,211.90 L310.44,212.02 L311.10,212.14 L311.76,212.26 L312.42,212.38 L313.08,212.50 L313.74,212.61 L314.41,212.73 L315.07,212.84 L315.73,212.95 L316.39,213.07 L317.05,213.18 L317.71,213.28 L318.38,213.39 L319.04,213.50 L319.70,213.60 L320.36,213.71 L321.03,213.81 L321.69,213.92 L322.35,214.02 L323.01,214.12 L323.67,214.22 L324.34,214.32 L325.00,214.42 L325.66,214.52 L326.32,214.62 L326.98,214.72 L327.64,214.82 L328.31,214.91 L328.97,215.01 L329.63,215.11 L330.29,215.20 L330.95,215.30 L331.61,215.40 L332.27,215.49 L332.92,215.59 L333.58,215.68 L334.24,215.78 L334.90,215.88 L335.56,215.97 L336.21,216.07 L336.87,216.16 L337.52,216.26 L338.18,216.36 L338.83,216.46 L339.49,216.55 L340.14,216.65 L340.79,216.75 L341.50,216.80" fill="none" stroke="#d95f02" stroke-width="2.1"/>
<path d="M42.50,224.20 L119.00,224.20 L119.72,224.20 L120.45,224.20 L121.16,224.20 L121.84,224.20 L122.50,224.10 L123.15,223.92 L123.77,223.72 L124.37,223.49 L124.95,223.24 L125.52,222.96 L126.06,222.65 L126.59,222.32 L127.10,221.97 L127.60,221.59 L128.08,221.19 L128.54,220.78 L128.98,220.34 L129.41,219.88 L129.83,219.40 L130.23,218.91 L130.62,218.40 L131.00,217.88 L131.36,217.34 L131.71,216.78 L132.04,216.21 L132.37,215.63 L132.68,215.04 L132.99,214.44 L133.28,213.82 L133.56,213.20 L133.84,212.57 L134.10,211.93 L134.36,211.29 L134.61,210.64 L134.85,209.98 L135.08,209.32 L135.31,208.66 L135.53,207.99 L135.74,207.33 L135.95,206.66 L136.16,205.99 L136.36,205.32 L136.56,204.66 L136.75,203.99 L136.94,203.33 L137.12,202.67 L137.30,202.01 L137.48,201.35 L137.66,200.70 L137.83,200.04 L138.00,199.39 L138.17,198.74 L138.33,198.09 L138.49,197.44 L138.65,196.79 L138.81,196.14 L138.96,195.49 L139.12,194.85 L139.27,194.20 L139.42,193.56 L139.56,192.91 L139.71,192.27 L139.85,191.63 L139.99,190.99 L140.13,190.34 L140.27,189.70 L140.41,189.06 L140.55,188.41 L140.69,187.77 L140.82,187.13 L140.96,186.48 L141.10,185.84 L141.23,185.20 L141.36,184.55 L141.50,183.91 L141.63,183.26 L141.77,182.61 L141.90,181.96 L142.04,181.32 L142.17,180.67 L142.31,180.02 L142.44,179.37 L142.57,178.71 L142.71,178.06 L142.84,177.41 L142.98,176.76 L143.11,176.10 L143.25,175.45 L143.38,174.80 L143.51,174.14 L143.65,173.49 L143.78,172.83 L143.91,172.17 L144.05,171.52 L144.18,170.86 L144.32,170.20 L144.45,169.55 L144.58,168.89 L144.72,168.23 L144.85,167.57 L144.98,166.91 L145.12,166.25 L145.25,165.59 L145.38,164.93 L145.52,164.27 L145.65,163.61 L145.78,162.95 L145.91,162.29 L146.05,161.63 L146.18,160.97 L146.31,160.31 L146.45,159.65 L146.58,158.99 L146.71,158.33 L146.84,157.67 L146.98,157.01 L147.11,156.35 L147.24,155.69 L147.37,155.03 L147.50,154.37 L147.63,153.71 L147.77,153.05 L147.90,152.39 L148.03,151.73 L148.16,151.07 L148.29,150.41 L148.42,149.75 L148.55,149.09 L148.69,148.44 L148.82,147.78 L148.95,147.12 L149.08,146.46 L149.21,145.80 L149.34,145.15 L149.47,144.49 L149.60,143.84 L149.73,143.18 L149.86,142.52 L149.99,141.87 L150.12,141.22 L150.25,140.56 L150.38,139.91 L150.51,139.26 L150.64,138.60 L150.77,137.95 L150.90,137.30 L151.02,136.65 L151.15,136.00 L151.28,135.35 L151.41,134.70 L151.54,134.05 L151.67,133.40 L151.79,132.75 L151.92,132.11 L152.05,131.46 L152.17,130.81 L152.30,130.16 L152.43,129.51 L152.55,128.86 L152.68,128.21 L152.80,127.56 L152.93,126.91 L153.05,126.26 L153.17,125.61 L153.29,124.96 L153.42,124.30 L153.54,123.65 L153.66,123.00 L153.78,122.34 L153.90,121.68 L154.02,121.03 L154.14,120.37 L154.25,119.71 L154.37,119.05 L154.49,118.39 L154.60,117.73 L154.72,117.07 L154.83,116.40 L154.95,115.74 L155.06,115.07 L155.17,114.40 L155.28,113.73 L155.39,113.06 L155.50,112.38 L155.61,111.71 L155.72,111.03 L155.83,110.36 L155.94,109.68 L156.06,109.01 L156.17,108.33 L156.29,107.66 L156.41,106.98 L156.53,106.31 L156.66,105.64 L156.79,104.97 L156.93,104.30 L157.06,103.63 L157.21,102.97 L157.36,102.31 L157.52,101.65 L157.68,101.00 L157.85,100.35 L158.02,99.70 L158.20,99.06 L158.39,98.42 L158.59,97.79 L158.80,97.16 L159.02,96.53 L159.24,95.91 L159.48,95.30 L159.72,94.70 L159.98,94.10 L160.24,93.50 L160.52,92.91 L160.81,92.33 L161.11,91.76 L161.43,91.20 L161.75,90.64 L162.09,90.09 L162.45,89.55 L162.81,89.02 L163.20,88.49 L163.59,87.98 L164.01,87.48 L164.44,87.03 L164.90,86.66 L165.39,86.38 L165.92,86.24 L166.49,86.24 L167.10,86.40 L167.72,86.67 L168.32,87.00 L168.91,87.37 L169.46,87.77 L169.99,88.19 L170.51,88.64 L171.00,89.10 L171.47,89.59 L171.92,90.10 L172.36,90.62 L172.78,91.16 L173.19,91.71 L173.59,92.27 L173.98,92.84 L174.37,93.41 L174.75,93.98 L175.12,94.56 L175.49,95.13 L175.85,95.71 L176.21,96.29 L176.57,96.87 L176.93,97.45 L177.28,98.03 L177.62,98.62 L177.97,99.20 L178.31,99.78 L178.64,100.37 L178.98,100.95 L179.31,101.54 L179.64,102.12 L179.96,102.71 L180.28,103.30 L180.61,103.89 L180.92,104.48 L181.24,105.07 L181.55,105.66 L181.87,106.25 L182.18,106.84 L182.48,107.43 L182.79,108.02 L183.10,108.61 L183.40,109.20 L183.70,109.80 L184.01,110.39 L184.31,110.98 L184.61,111.58 L184.90,112.17 L185.20,112.76 L185.50,113.36 L185.80,113.95 L186.09,114.54 L186.39,115.14 L186.69,115.73 L186.98,116.33 L187.28,116.92 L187.58,117.51 L187.87,118.11 L188.17,118.70 L188.47,119.30 L188.77,119.89 L189.07,120.48 L189.37,121.08 L189.67,121.67 L189.97,122.26 L190.27,122.86 L190.58,123.45 L190.88,124.04 L191.19,124.63 L191.50,125.22 L191.81,125.81 L192.12,126.40 L192.44,126.99 L192.75,127.58 L193.07,128.17 L193.39,128.76 L193.71,129.35 L194.03,129.93 L194.35,130.52 L194.68,131.10 L195.01,131.69 L195.34,132.27 L195.67,132.86 L196.00,133.44 L196.33,134.02 L196.67,134.60 L197.01,135.18 L197.35,135.75 L197.69,136.33 L198.03,136.91 L198.38,137.48 L198.72,138.05 L199.07,138.63 L199.42,139.20 L199.78,139.77 L200.13,140.34 L200.49,140.90 L200.85,141.47 L201.21,142.03 L201.57,142.59 L201.94,143.16 L202.31,143.72 L202.68,144.27 L203.05,144.83 L203.43,145.38 L203.80,145.94 L204.18,146.49 L204.56,147.04 L204.95,147.59 L205.34,148.13 L205.72,148.68 L206.12,149.22 L206.51,149.76 L206.90,150.30 L207.30,150.83 L207.70,151.37 L208.11,151.90 L208.51,152.43 L208.92,152.96 L209.33,153.48 L209.75,154.01 L210.17,154.53 L210.58,155.05 L211.01,155.56 L211.43,156.08 L211.86,156.59 L212.29,157.10 L212.72,157.60 L213.16,158.11 L213.60,158.61 L214.04,159.11 L214.48,159.61 L214.93,160.10 L215.38,160.59 L215.83,161.08 L216.29,161.57 L216.75,162.05 L217.21,162.53 L217.67,163.01 L218.14,163.49 L218.61,163.96 L219.08,164.43 L219.55,164.90 L220.03,165.36 L220.51,165.83 L220.99,166.29 L221.48,166.74 L221.96,167.20 L222.45,167.65 L222.95,168.10 L223.44,168.55 L223.94,169.00 L224.44,169.44 L224.94,169.88 L225.44,170.32 L225.95,170.76 L226.46,171.19 L226.97,171.62 L227.48,172.05 L227.99,172.47 L228.51,172.90 L229.03,173.32 L229.55,173.74 L230.08,174.16 L230.60,174.57 L231.13,174.98 L231.66,175.39 L232.19,175.80 L232.72,176.20 L233.26,176.61 L233.79,177.01 L234.33,177.41 L234.87,177.80 L235.41,178.20 L235.96,178.59 L236.50,178.98 L237.05,179.36 L237.60,179.75 L238.15,180.13 L238.70,180.51 L239.26,180.89 L239.81,181.27 L240.37,181.64 L240.93,182.01 L241.49,182.38 L242.05,182.75 L242.61,183.12 L243.18,183.48 L243.74,183.84 L244.31,184.20 L244.88,184.56 L245.45,184.92 L246.02,185.27 L246.59,185.62 L247.16,185.97 L247.74,186.32 L248.31,186.66 L248.89,187.00 L249.47,187.35 L250.04,187.68 L250.62,188.02 L251.21,188.36 L251.79,188.69 L252.37,189.02 L252.95,189.35 L253.54,189.68 L254.12,190.00 L254.71,190.33 L255.30,190.65 L255.89,190.97 L256.47,191.29 L257.06,191.60 L257.66,191.92 L258.25,192.23 L258.84,192.54 L259.43,192.85 L260.03,193.15 L260.62,193.46 L261.22,193.76 L261.82,194.06 L262.41,194.35 L263.01,194.65 L263.61,194.94 L264.21,195.23 L264.81,195.52 L265.42,195.81 L266.02,196.10 L266.62,196.38 L267.23,196.66 L267.84,196.94 L268.44,197.21 L269.05,197.49 L269.66,197.76 L270.27,198.03 L270.88,198.30 L271.49,198.56 L272.10,198.83 L272.71,199.09 L273.33,199.35 L273.94,199.60 L274.56,199.86 L275.18,200.11 L275.79,200.36 L276.41,200.61 L277.03,200.85 L277.65,201.09 L278.27,201.33 L278.89,201.57 L279.52,201.81 L280.14,202.04 L280.76,202.27 L281.39,202.50 L282.02,202.73 L282.64,202.95 L283.27,203.17 L283.90,203.39 L284.53,203.61 L285.16,203.82 L285.79,204.03 L286.42,204.24 L287.06,204.45 L287.69,204.66 L288.33,204.86 L288.96,205.06 L289.60,205.25 L290.24,205.45 L290.88,205.64 L291.52,205.83 L292.16,206.02 L292.80,206.20 L293.44,206.38 L294.08,206.56 L294.73,206.74 L295.37,206.91 L296.02,207.08 L296.66,207.25 L297.31,207.42 L297.96,207.58 L298.61,207.74 L299.26,207.90 L299.91,208.06 L300.56,208.21 L301.21,208.36 L301.86,208.51 L302.52,208.65 L303.17,208.80 L303.83,208.94 L304.48,209.08 L305.14,209.22 L305.80,209.35 L306.46,209.48 L307.11,209.61 L307.77,209.74 L308.43,209.87 L309.09,209.99 L309.75,210.12 L310.41,210.24 L311.07,210.36 L311.74,210.48 L312.40,210.60 L313.06,210.71 L313.72,210.82 L314.38,210.94 L315.05,211.05 L315.71,211.16 L316.37,211.27 L317.04,211.38 L317.70,211.48 L318.36,211.59 L319.03,211.69 L319.69,211.80 L320.35,211.90 L321.02,212.00 L321.68,212.10 L322.34,212.20 L323.01,212.30 L323.67,212.40 L324.33,212.50 L325.00,212.60 L325.66,212.70 L326.32,212.80 L326.98,212.89 L327.65,212.99 L328.31,213.09 L328.97,213.18 L329.63,213.28 L330.29,213.38 L330.95,213.48 L331.61,213.57 L332.27,213.67 L332.93,213.77 L333.59,213.86 L334.24,213.96 L334.90,214.06 L335.56,214.16 L336.21,214.26 L336.87,214.36 L337.52,214.46 L338.18,214.56 L338.83,214.66 L339.48,214.76 L340.13,214.87 L340.78,214.97 L341.50,215.00" fill="none" stroke="#8c8c8c" stroke-width="1.9"/>
<path d="M42.50,224.20 L119.50,224.20 L120.23,224.20 L120.97,224.20 L121.68,224.20 L122.37,224.20 L123.04,224.20 L123.68,224.20 L124.29,224.10 L124.89,223.87 L125.46,223.59 L126.02,223.27 L126.55,222.91 L127.07,222.51 L127.57,222.09 L128.05,221.64 L128.51,221.16 L128.96,220.67 L129.40,220.16 L129.82,219.64 L130.23,219.11 L130.63,218.58 L131.02,218.03 L131.40,217.48 L131.76,216.92 L132.11,216.35 L132.46,215.78 L132.79,215.20 L133.12,214.61 L133.43,214.02 L133.74,213.43 L134.03,212.83 L134.32,212.22 L134.60,211.61 L134.88,211.00 L135.14,210.38 L135.40,209.76 L135.65,209.14 L135.90,208.51 L136.14,207.88 L136.38,207.25 L136.61,206.62 L136.83,205.98 L137.05,205.35 L137.27,204.71 L137.48,204.08 L137.69,203.44 L137.90,202.80 L138.10,202.17 L138.30,201.53 L138.50,200.89 L138.69,200.25 L138.88,199.61 L139.07,198.97 L139.25,198.33 L139.43,197.69 L139.61,197.05 L139.78,196.41 L139.96,195.77 L140.13,195.13 L140.30,194.49 L140.47,193.84 L140.63,193.20 L140.79,192.55 L140.95,191.91 L141.11,191.27 L141.27,190.62 L141.43,189.97 L141.58,189.33 L141.74,188.68 L141.89,188.03 L142.04,187.39 L142.19,186.74 L142.34,186.09 L142.49,185.44 L142.64,184.79 L142.79,184.14 L142.94,183.49 L143.09,182.84 L143.23,182.19 L143.38,181.54 L143.53,180.89 L143.67,180.24 L143.82,179.58 L143.96,178.93 L144.11,178.28 L144.25,177.62 L144.40,176.97 L144.54,176.31 L144.68,175.66 L144.82,175.01 L144.97,174.35 L145.11,173.70 L145.25,173.04 L145.39,172.38 L145.53,171.73 L145.67,171.07 L145.81,170.42 L145.95,169.76 L146.09,169.10 L146.23,168.45 L146.37,167.79 L146.51,167.13 L146.65,166.48 L146.79,165.82 L146.92,165.16 L147.06,164.50 L147.20,163.85 L147.33,163.19 L147.47,162.53 L147.61,161.87 L147.74,161.21 L147.88,160.56 L148.01,159.90 L148.14,159.24 L148.28,158.58 L148.41,157.93 L148.54,157.27 L148.68,156.61 L148.81,155.95 L148.94,155.30 L149.07,154.64 L149.20,153.98 L149.33,153.33 L149.47,152.67 L149.60,152.01 L149.73,151.36 L149.86,150.70 L149.98,150.04 L150.11,149.39 L150.24,148.73 L150.37,148.08 L150.50,147.42 L150.62,146.77 L150.75,146.11 L150.88,145.46 L151.01,144.80 L151.13,144.15 L151.26,143.49 L151.38,142.84 L151.51,142.19 L151.63,141.54 L151.76,140.88 L151.88,140.23 L152.00,139.58 L152.13,138.93 L152.25,138.28 L152.37,137.63 L152.50,136.98 L152.62,136.33 L152.74,135.68 L152.86,135.03 L152.98,134.38 L153.10,133.73 L153.22,133.08 L153.34,132.43 L153.46,131.78 L153.58,131.13 L153.70,130.48 L153.82,129.83 L153.93,129.18 L154.05,128.53 L154.17,127.88 L154.28,127.22 L154.40,126.57 L154.51,125.92 L154.63,125.26 L154.74,124.61 L154.86,123.95 L154.97,123.29 L155.08,122.64 L155.19,121.98 L155.30,121.32 L155.41,120.65 L155.52,119.99 L155.63,119.33 L155.74,118.66 L155.85,117.99 L155.96,117.32 L156.06,116.65 L156.17,115.98 L156.28,115.31 L156.38,114.63 L156.49,113.96 L156.59,113.28 L156.69,112.60 L156.80,111.92 L156.90,111.23 L157.01,110.55 L157.11,109.87 L157.22,109.19 L157.34,108.50 L157.45,107.82 L157.57,107.15 L157.70,106.47 L157.82,105.80 L157.96,105.12 L158.10,104.46 L158.25,103.79 L158.40,103.13 L158.56,102.48 L158.73,101.83 L158.91,101.19 L159.10,100.55 L159.29,99.92 L159.50,99.29 L159.72,98.67 L159.95,98.06 L160.19,97.46 L160.44,96.86 L160.71,96.28 L160.98,95.70 L161.28,95.13 L161.58,94.58 L161.91,94.03 L162.24,93.49 L162.60,92.97 L162.97,92.46 L163.35,91.95 L163.76,91.47 L164.18,90.99 L164.62,90.53 L165.08,90.10 L165.55,89.71 L166.05,89.39 L166.56,89.15 L167.09,89.02 L167.64,89.01 L168.20,89.14 L168.78,89.42 L169.36,89.82 L169.94,90.28 L170.51,90.78 L171.05,91.28 L171.59,91.78 L172.10,92.29 L172.60,92.80 L173.08,93.31 L173.55,93.83 L174.01,94.36 L174.45,94.89 L174.88,95.42 L175.30,95.95 L175.72,96.49 L176.12,97.03 L176.51,97.57 L176.90,98.12 L177.27,98.67 L177.65,99.22 L178.01,99.77 L178.38,100.33 L178.73,100.89 L179.09,101.45 L179.44,102.01 L179.79,102.58 L180.13,103.14 L180.48,103.71 L180.82,104.28 L181.15,104.85 L181.49,105.43 L181.82,106.00 L182.15,106.58 L182.47,107.16 L182.80,107.74 L183.12,108.32 L183.44,108.90 L183.76,109.48 L184.07,110.07 L184.39,110.65 L184.70,111.24 L185.01,111.83 L185.32,112.42 L185.63,113.01 L185.94,113.59 L186.25,114.19 L186.55,114.78 L186.86,115.37 L187.17,115.96 L187.47,116.55 L187.78,117.15 L188.08,117.74 L188.39,118.33 L188.69,118.93 L189.00,119.52 L189.30,120.11 L189.61,120.71 L189.92,121.30 L190.22,121.89 L190.53,122.49 L190.84,123.08 L191.15,123.67 L191.46,124.26 L191.78,124.85 L192.09,125.44 L192.41,126.03 L192.72,126.62 L193.04,127.21 L193.36,127.80 L193.69,128.39 L194.01,128.97 L194.34,129.56 L194.66,130.14 L194.99,130.72 L195.32,131.31 L195.66,131.89 L195.99,132.47 L196.33,133.05 L196.67,133.63 L197.01,134.20 L197.35,134.78 L197.69,135.35 L198.04,135.93 L198.39,136.50 L198.74,137.07 L199.09,137.64 L199.44,138.21 L199.80,138.78 L200.16,139.34 L200.52,139.91 L200.88,140.47 L201.24,141.03 L201.61,141.59 L201.98,142.15 L202.35,142.71 L202.72,143.26 L203.09,143.82 L203.47,144.37 L203.85,144.92 L204.23,145.47 L204.62,146.01 L205.00,146.56 L205.39,147.10 L205.78,147.64 L206.17,148.18 L206.57,148.72 L206.97,149.26 L207.37,149.79 L207.77,150.32 L208.17,150.85 L208.58,151.38 L208.99,151.91 L209.40,152.43 L209.82,152.95 L210.23,153.47 L210.65,153.99 L211.08,154.51 L211.50,155.02 L211.93,155.53 L212.36,156.04 L212.79,156.54 L213.23,157.05 L213.66,157.55 L214.11,158.05 L214.55,158.54 L215.00,159.04 L215.44,159.53 L215.90,160.02 L216.35,160.51 L216.81,160.99 L217.27,161.47 L217.73,161.95 L218.20,162.42 L218.66,162.90 L219.14,163.37 L219.61,163.84 L220.09,164.30 L220.56,164.77 L221.05,165.23 L221.53,165.68 L222.02,166.14 L222.51,166.59 L223.00,167.04 L223.49,167.49 L223.99,167.94 L224.49,168.38 L224.99,168.82 L225.49,169.26 L226.00,169.69 L226.50,170.13 L227.01,170.56 L227.53,170.99 L228.04,171.41 L228.56,171.84 L229.08,172.26 L229.60,172.68 L230.12,173.09 L230.65,173.51 L231.17,173.92 L231.70,174.33 L232.23,174.74 L232.77,175.14 L233.30,175.55 L233.84,175.95 L234.38,176.34 L234.92,176.74 L235.46,177.13 L236.00,177.53 L236.55,177.91 L237.10,178.30 L237.64,178.69 L238.19,179.07 L238.75,179.45 L239.30,179.83 L239.86,180.20 L240.41,180.58 L240.97,180.95 L241.53,181.32 L242.09,181.69 L242.66,182.05 L243.22,182.42 L243.79,182.78 L244.35,183.14 L244.92,183.49 L245.49,183.85 L246.06,184.20 L246.63,184.55 L247.21,184.90 L247.78,185.25 L248.36,185.59 L248.93,185.93 L249.51,186.28 L250.09,186.61 L250.67,186.95 L251.25,187.29 L251.83,187.62 L252.41,187.95 L253.00,188.28 L253.58,188.61 L254.17,188.93 L254.75,189.25 L255.34,189.58 L255.93,189.90 L256.52,190.21 L257.11,190.53 L257.70,190.84 L258.29,191.15 L258.88,191.46 L259.48,191.77 L260.07,192.08 L260.66,192.38 L261.26,192.68 L261.86,192.98 L262.46,193.28 L263.05,193.57 L263.65,193.86 L264.25,194.16 L264.85,194.44 L265.46,194.73 L266.06,195.02 L266.66,195.30 L267.27,195.58 L267.87,195.86 L268.48,196.13 L269.09,196.41 L269.70,196.68 L270.31,196.95 L270.92,197.21 L271.53,197.48 L272.14,197.74 L272.75,198.00 L273.36,198.26 L273.98,198.52 L274.59,198.77 L275.21,199.02 L275.83,199.27 L276.45,199.52 L277.06,199.76 L277.68,200.01 L278.31,200.25 L278.93,200.48 L279.55,200.72 L280.17,200.95 L280.80,201.18 L281.42,201.41 L282.05,201.64 L282.67,201.86 L283.30,202.08 L283.93,202.30 L284.56,202.52 L285.19,202.73 L285.82,202.94 L286.45,203.15 L287.09,203.36 L287.72,203.56 L288.35,203.76 L288.99,203.96 L289.63,204.16 L290.26,204.35 L290.90,204.55 L291.54,204.74 L292.18,204.92 L292.82,205.11 L293.46,205.29 L294.11,205.47 L294.75,205.64 L295.39,205.82 L296.04,205.99 L296.69,206.16 L297.33,206.32 L297.98,206.49 L298.63,206.65 L299.28,206.80 L299.93,206.96 L300.58,207.11 L301.23,207.26 L301.89,207.41 L302.54,207.56 L303.19,207.70 L303.85,207.84 L304.50,207.98 L305.16,208.12 L305.82,208.25 L306.47,208.39 L307.13,208.52 L307.79,208.65 L308.45,208.77 L309.11,208.90 L309.77,209.02 L310.43,209.14 L311.09,209.26 L311.75,209.38 L312.41,209.50 L313.07,209.61 L313.74,209.73 L314.40,209.84 L315.06,209.95 L315.72,210.06 L316.39,210.17 L317.05,210.28 L317.71,210.38 L318.38,210.49 L319.04,210.60 L319.70,210.70 L320.37,210.80 L321.03,210.90 L321.69,211.01 L322.36,211.11 L323.02,211.21 L323.68,211.31 L324.34,211.40 L325.01,211.50 L325.67,211.60 L326.33,211.70 L326.99,211.80 L327.65,211.89 L328.32,211.99 L328.98,212.09 L329.64,212.18 L330.30,212.28 L330.96,212.38 L331.62,212.47 L332.28,212.57 L332.93,212.67 L333.59,212.77 L334.25,212.86 L334.91,212.96 L335.56,213.06 L336.22,213.16 L336.87,213.26 L337.53,213.36 L338.18,213.46 L338.83,213.56 L339.48,213.66 L340.13,213.76 L340.78,213.87 L341.50,213.90" fill="none" stroke="#d95f02" stroke-width="1.05" stroke-dasharray="3.0 1.5"/>
<line x1="42.7" y1="187.5" x2="342" y2="187.5" stroke="#3588c4" stroke-width="2.2" stroke-dasharray="2.2 4.117"/>
</g>
<rect x="42.50" y="3.70" width="299.00" height="220.50" fill="none" stroke="#737373" stroke-width="1.4"/>
<line x1="42.50" y1="224.90" x2="42.50" y2="227.80" stroke="#555" stroke-width="1.0"/>
<text x="43.10" y="238.3" font-size="11.2" text-anchor="middle">20</text>
<line x1="92.33" y1="224.90" x2="92.33" y2="227.80" stroke="#555" stroke-width="1.0"/>
<text x="92.93" y="238.3" font-size="11.2" text-anchor="middle">40</text>
<line x1="142.17" y1="224.90" x2="142.17" y2="227.80" stroke="#555" stroke-width="1.0"/>
<text x="142.77" y="238.3" font-size="11.2" text-anchor="middle">60</text>
<line x1="192.00" y1="224.90" x2="192.00" y2="227.80" stroke="#555" stroke-width="1.0"/>
<text x="192.60" y="238.3" font-size="11.2" text-anchor="middle">80</text>
<line x1="241.83" y1="224.90" x2="241.83" y2="227.80" stroke="#555" stroke-width="1.0"/>
<text x="242.43" y="238.3" font-size="11.2" text-anchor="middle">100</text>
<line x1="291.67" y1="224.90" x2="291.67" y2="227.80" stroke="#555" stroke-width="1.0"/>
<text x="292.27" y="238.3" font-size="11.2" text-anchor="middle">120</text>
<line x1="341.50" y1="224.90" x2="341.50" y2="227.80" stroke="#555" stroke-width="1.0"/>
<text x="342.10" y="238.3" font-size="11.2" text-anchor="middle">140</text>
<line x1="38.90" y1="224.20" x2="41.80" y2="224.20" stroke="#555" stroke-width="1.0"/>
<text x="36.9" y="228.10" font-size="11.2" text-anchor="end">0.00</text>
<line x1="38.90" y1="180.10" x2="41.80" y2="180.10" stroke="#555" stroke-width="1.0"/>
<text x="36.9" y="184.00" font-size="11.2" text-anchor="end">0.01</text>
<line x1="38.90" y1="136.00" x2="41.80" y2="136.00" stroke="#555" stroke-width="1.0"/>
<text x="36.9" y="139.90" font-size="11.2" text-anchor="end">0.02</text>
<line x1="38.90" y1="91.90" x2="41.80" y2="91.90" stroke="#555" stroke-width="1.0"/>
<text x="36.9" y="95.80" font-size="11.2" text-anchor="end">0.03</text>
<line x1="38.90" y1="47.80" x2="41.80" y2="47.80" stroke="#555" stroke-width="1.0"/>
<text x="36.9" y="51.70" font-size="11.2" text-anchor="end">0.04</text>
<line x1="38.90" y1="3.70" x2="41.80" y2="3.70" stroke="#555" stroke-width="1.0"/>
<text x="36.9" y="7.60" font-size="11.2" text-anchor="end">0.05</text>
<text x="192.3" y="254" font-size="13.9" text-anchor="middle"><tspan font-style="italic">H</tspan><tspan font-size="9.7" dy="2">0</tspan><tspan dy="-2"> (km s</tspan><tspan font-size="9.7" dy="-5">−1</tspan><tspan dy="5"> Mpc</tspan><tspan font-size="9.7" dy="-5">−1</tspan><tspan dy="5">)</tspan></text>
<text transform="translate(10.3,0) rotate(-90)" x="-168.15" y="0.00" font-size="13.90" font-style="italic" textLength="6.80" lengthAdjust="spacingAndGlyphs">p</text>
<text transform="translate(10.3,0) rotate(-90)" x="-161.35" y="0.00" font-size="13.90" textLength="3.80" lengthAdjust="spacingAndGlyphs">(</text>
<text transform="translate(10.3,0) rotate(-90)" x="-156.45" y="0.00" font-size="13.90" font-style="italic" textLength="9.70" lengthAdjust="spacingAndGlyphs">H</text>
<text transform="translate(10.3,0) rotate(-90)" x="-147.65" y="2.00" font-size="9.73" textLength="4.80" lengthAdjust="spacingAndGlyphs">0</text>
<text transform="translate(10.3,0) rotate(-90)" x="-142.85" y="0.00" font-size="13.90" textLength="3.80" lengthAdjust="spacingAndGlyphs">)</text>
<text transform="translate(10.3,0) rotate(-90)" x="-135.05" y="0.00" font-size="13.90" textLength="3.80" lengthAdjust="spacingAndGlyphs">(</text>
<text transform="translate(10.3,0) rotate(-90)" x="-129.35" y="0.00" font-size="13.90" textLength="18.80" lengthAdjust="spacingAndGlyphs">km</text>
<text transform="translate(10.3,0) rotate(-90)" x="-110.65" y="-5.00" font-size="9.73" textLength="10.20" lengthAdjust="spacingAndGlyphs">−1</text>
<text transform="translate(10.3,0) rotate(-90)" x="-97.45" y="0.00" font-size="13.90" textLength="5.60" lengthAdjust="spacingAndGlyphs">s</text>
<text transform="translate(10.3,0) rotate(-90)" x="-89.85" y="0.00" font-size="13.90" textLength="32.00" lengthAdjust="spacingAndGlyphs">Mpc)</text>
<rect x="215.2" y="8.4" width="120.8" height="58.6" rx="2" ry="2" fill="#fff" fill-opacity="0.85" stroke="#d6d6d6" stroke-width="1"/>
<line x1="218" y1="16.1" x2="231.5" y2="16.1" stroke="#d95f02" stroke-width="2.3"/>
<line x1="218" y1="30.3" x2="231.5" y2="30.3" stroke="#d95f02" stroke-width="1.05"/>
<line x1="218" y1="44.5" x2="231.5" y2="44.5" stroke="#d95f02" stroke-width="1.05" stroke-dasharray="3.0 1.5"/>
<line x1="218" y1="58.6" x2="231.5" y2="58.6" stroke="#8c8c8c" stroke-width="1.9"/>
<text x="235.4" y="20.00" font-size="10.0" letter-spacing="0.75"><tspan font-style="italic">R</tspan>(<tspan font-style="italic">z</tspan>)</text>
<path d="M263.50,16.00 C261.14,16.00 260.40,19.40 258.85,19.40 C257.11,19.40 257.11,16.00 258.85,16.00 C260.40,16.00 261.14,19.40 263.50,19.40" fill="none" stroke="#333" stroke-width="0.60"/>
<text x="267.2" y="20.00" font-size="10.0" letter-spacing="0.3">constant</text>
<text x="235.4" y="34.20" font-size="10.0" letter-spacing="0.75"><tspan font-style="italic">R</tspan>(<tspan font-style="italic">z</tspan>)</text>
<path d="M263.50,30.20 C261.14,30.20 260.40,33.60 258.85,33.60 C257.11,33.60 257.11,30.20 258.85,30.20 C260.40,30.20 261.14,33.60 263.50,33.60" fill="none" stroke="#333" stroke-width="0.60"/>
<text x="267.0" y="34.20" font-size="10.0">(</text>
<text x="269.8" y="34.20" font-size="10.0">1</text>
<path d="M275.9,31.70 H281.9 M278.9,28.70 V34.70" stroke="#424242" stroke-width="0.7" fill="none"/>
<text x="284.0" y="34.20" font-size="10.0" font-style="italic">z</text>
<text x="290.3" y="34.20" font-size="10.0">)</text>
<text x="294.6" y="30.20" font-size="7">3</text>
<text x="235.4" y="48.40" font-size="10.0" letter-spacing="0.75"><tspan font-style="italic">R</tspan>(<tspan font-style="italic">z</tspan>)</text>
<path d="M263.50,44.40 C261.14,44.40 260.40,47.80 258.85,47.80 C257.11,47.80 257.11,44.40 258.85,44.40 C260.40,44.40 261.14,47.80 263.50,47.80" fill="none" stroke="#333" stroke-width="0.60"/>
<text x="267.0" y="48.40" font-size="10.0">(</text>
<text x="269.8" y="48.40" font-size="10.0">1</text>
<path d="M275.9,45.90 H281.9 M278.9,42.90 V48.90" stroke="#424242" stroke-width="0.7" fill="none"/>
<text x="284.0" y="48.40" font-size="10.0" font-style="italic">z</text>
<text x="290.3" y="48.40" font-size="10.0">)</text>
<path d="M295.3,42.40 H299.8" stroke="#424242" stroke-width="0.6"/>
<text x="299.8" y="44.40" font-size="7">3</text>
<text x="235.4" y="62.50" font-size="10.0">GW170817 Counterpart</text>
</svg></body></html>
